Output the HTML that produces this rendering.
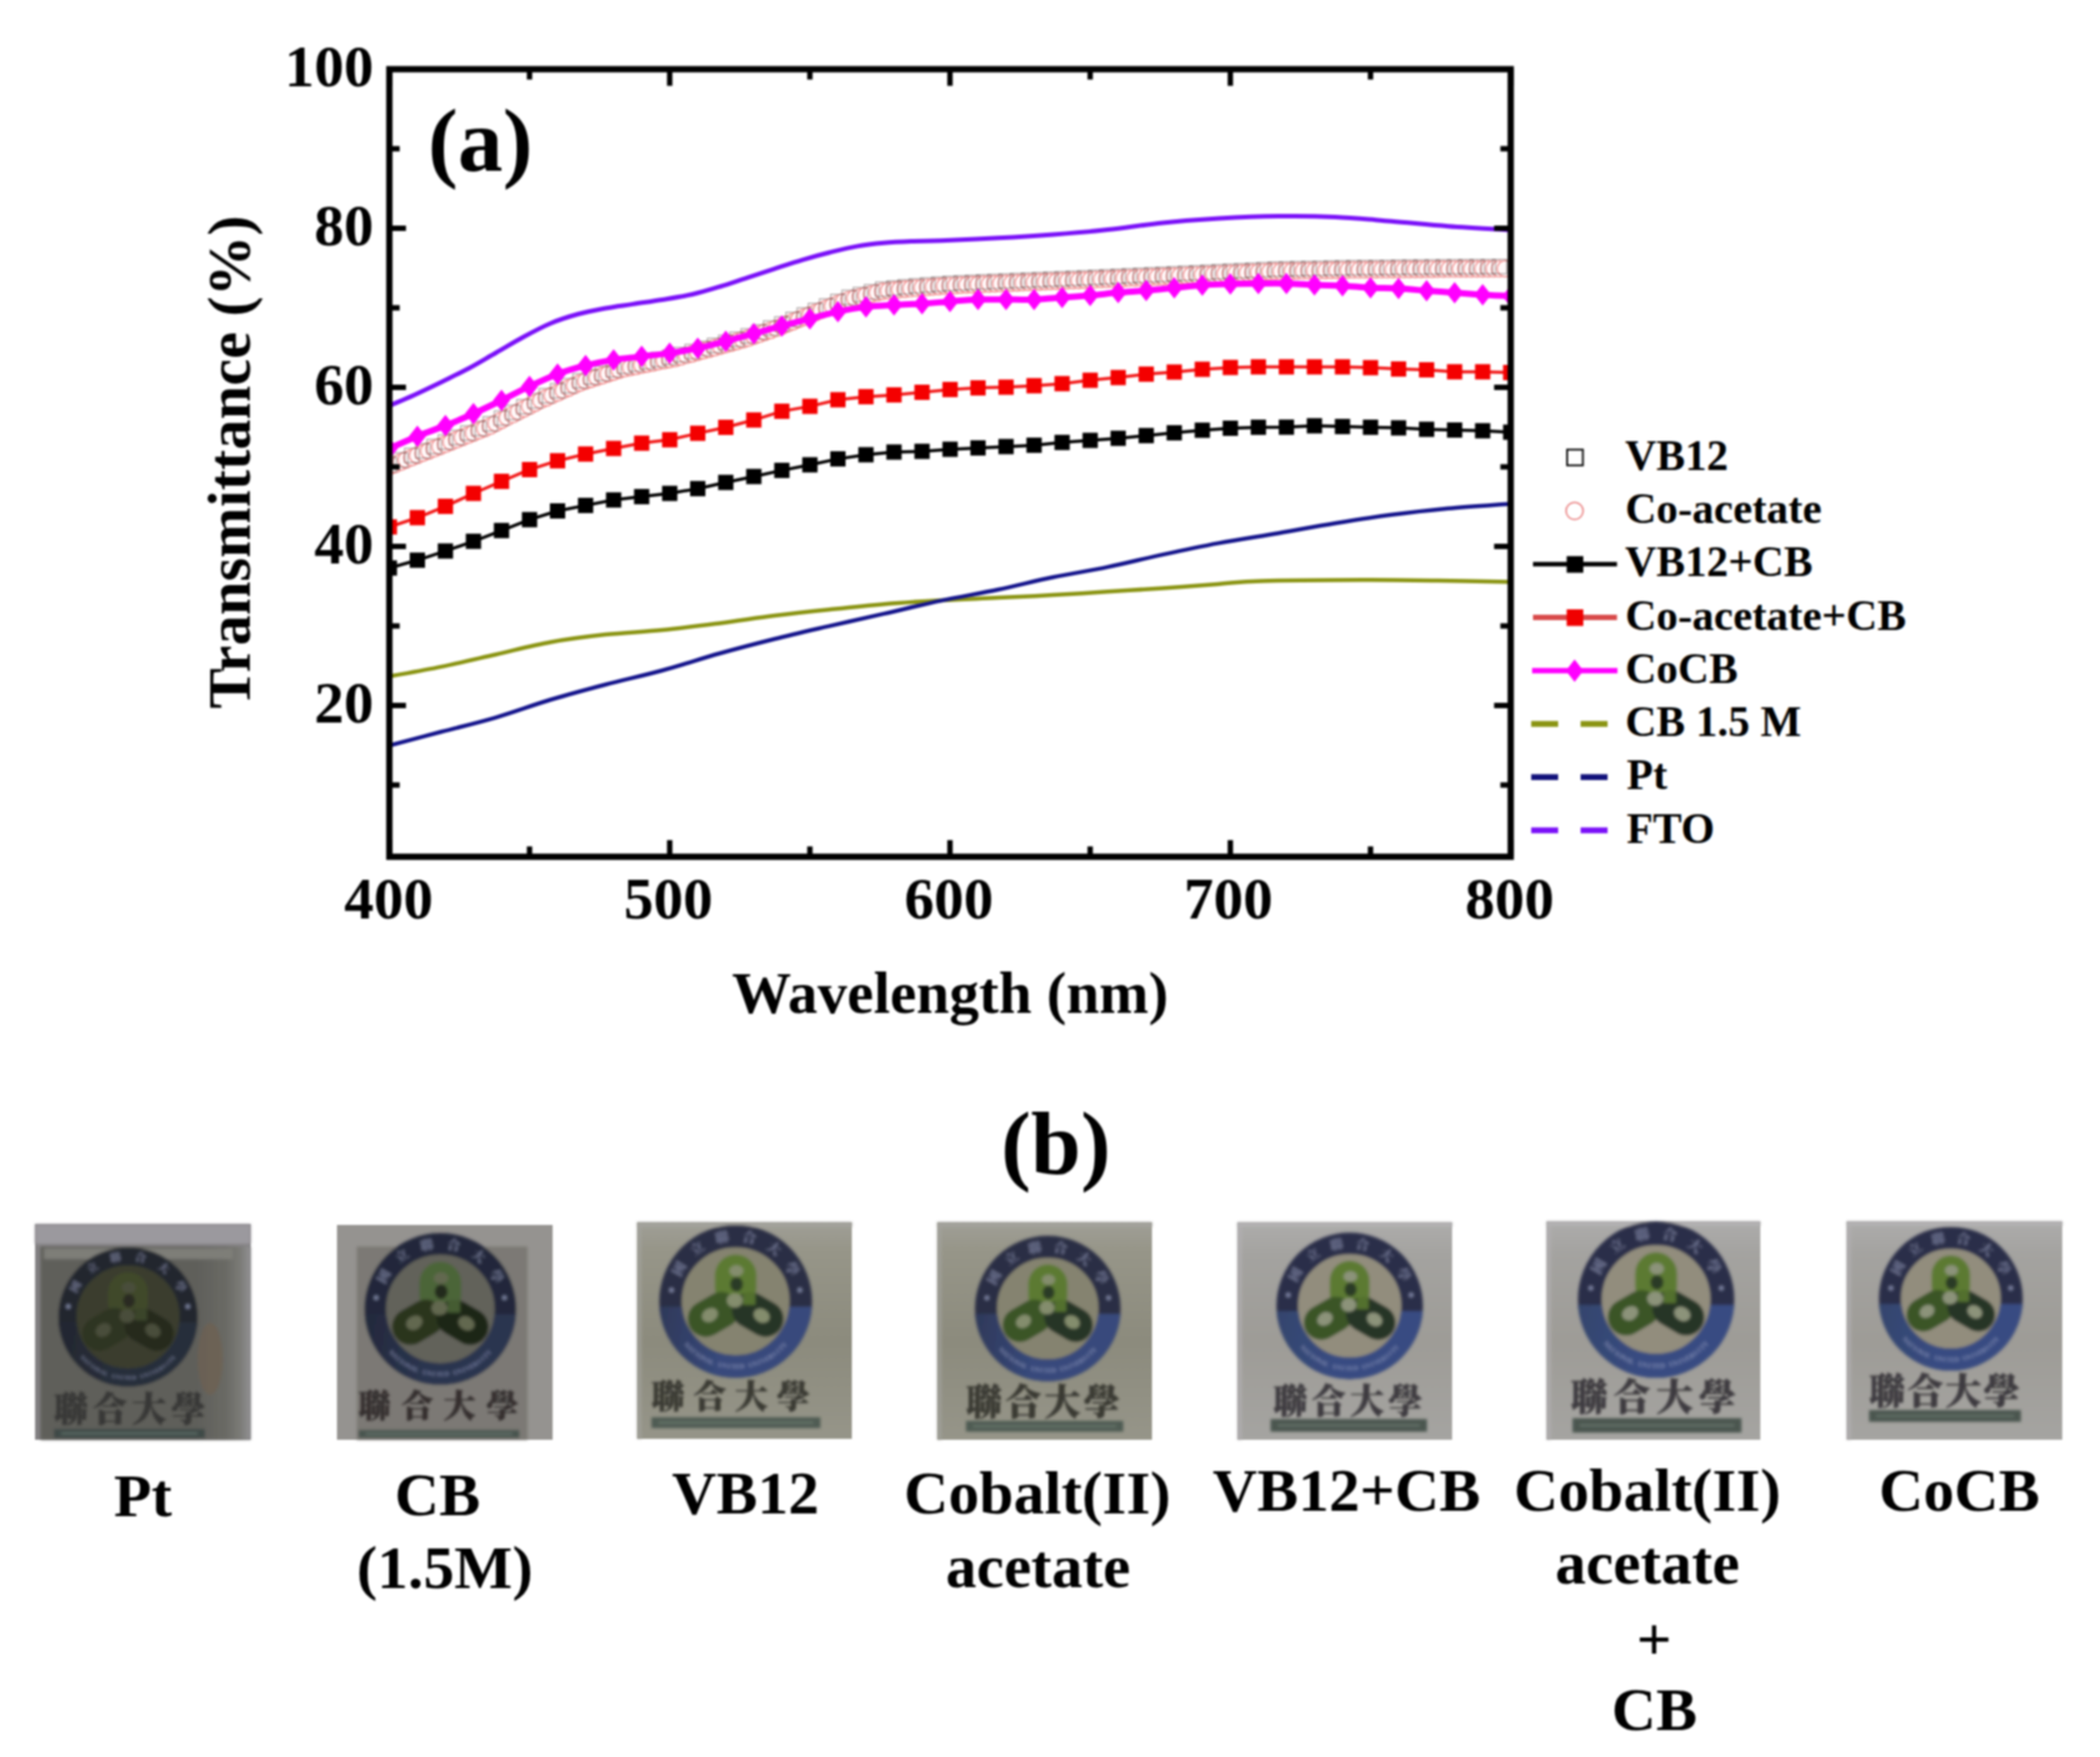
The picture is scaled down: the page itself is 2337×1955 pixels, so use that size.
<!DOCTYPE html>
<html><head><meta charset="utf-8"><title>Transmittance spectra and photographs</title>
<style>
html,body{margin:0;padding:0;background:#fff;}
body{width:2337px;height:1955px;overflow:hidden;}
svg{display:block;filter:blur(0.8px);}
</style></head>
<body>
<svg width="2337" height="1955" viewBox="0 0 2337 1955">
<rect width="2337" height="1955" fill="#fff"/>
<g id="plot">
<defs><clipPath id="pc"><rect x="433.3" y="77.0" width="1247.9" height="876.3"/></clipPath></defs>
<g clip-path="url(#pc)">
<path d="M433.3,752.6 C442.9,750.8 471.2,746.0 491.0,741.9 C510.8,737.8 531.6,732.8 551.9,728.2 C572.2,723.6 592.6,718.2 612.9,714.5 C633.2,710.8 653.1,708.4 673.8,706.1 C694.5,703.9 715.8,703.1 737.0,701.0 C758.2,698.9 780.2,696.1 801.0,693.5 C821.8,690.9 841.6,687.6 861.9,685.1 C882.2,682.6 902.6,680.4 922.9,678.3 C943.2,676.1 963.1,673.9 983.8,672.2 C1004.5,670.5 1025.8,669.2 1047.0,668.0 C1068.2,666.8 1090.2,666.1 1111.0,665.1 C1131.8,664.1 1151.6,663.2 1171.9,662.1 C1192.2,661.0 1212.6,659.6 1232.9,658.3 C1253.2,657.0 1273.5,655.9 1293.8,654.5 C1314.1,653.1 1336.4,651.2 1354.8,649.9 C1373.2,648.6 1377.0,647.3 1404.0,646.5 C1431.0,645.7 1484.3,645.4 1517.0,645.3 C1549.7,645.2 1572.6,645.6 1600.0,646.0 C1627.4,646.4 1667.7,647.2 1681.2,647.5" fill="none" stroke="#8a9412" stroke-width="4.5"/>
<path d="M433.3,829.5 C442.9,827.0 471.2,819.5 491.0,814.3 C510.8,809.1 531.6,804.3 551.9,798.3 C572.2,792.3 592.6,784.6 612.9,778.5 C633.2,772.4 653.1,767.1 673.8,761.7 C694.5,756.3 715.8,751.8 737.0,746.0 C758.2,740.2 780.2,732.8 801.0,727.0 C821.8,721.2 841.6,716.1 861.9,711.0 C882.2,705.9 902.6,701.3 922.9,696.6 C943.2,691.9 963.1,687.6 983.8,682.9 C1004.5,678.2 1025.8,672.9 1047.0,668.4 C1068.2,663.9 1090.2,660.4 1111.0,656.0 C1131.8,651.6 1151.6,646.5 1171.9,642.3 C1192.2,638.1 1212.6,635.1 1232.9,630.9 C1253.2,626.7 1273.3,621.5 1293.8,617.1 C1314.3,612.7 1334.5,608.4 1356.0,604.4 C1377.5,600.4 1401.3,596.9 1422.9,593.2 C1444.5,589.5 1464.8,585.6 1485.7,582.2 C1506.7,578.8 1527.6,575.5 1548.6,572.8 C1569.5,570.0 1589.3,567.8 1611.4,565.7 C1633.5,563.7 1669.6,561.4 1681.2,560.5" fill="none" stroke="#14148c" stroke-width="4.5"/>
<path d="M433.3,451.5 C437.8,449.5 450.9,444.1 460.5,439.7 C470.1,435.3 480.9,430.1 491.0,425.2 C501.1,420.2 511.2,415.4 521.4,410.0 C531.6,404.6 541.8,398.3 552.0,392.5 C562.2,386.7 572.2,380.5 582.4,375.0 C592.5,369.5 602.8,363.9 612.9,359.7 C623.0,355.4 633.1,352.3 643.3,349.5 C653.4,346.7 663.6,344.9 673.8,343.0 C684.0,341.1 693.8,340.0 704.3,338.4 C714.8,336.8 726.0,335.3 737.0,333.5 C748.0,331.7 759.8,329.9 770.5,327.5 C781.2,325.1 790.9,322.1 801.0,319.0 C811.1,315.9 821.2,312.4 831.4,309.1 C841.5,305.8 851.7,302.5 861.9,299.2 C872.1,295.9 882.2,292.3 892.4,289.3 C902.6,286.3 912.8,283.5 922.9,281.0 C933.0,278.5 943.1,275.9 953.3,274.1 C963.4,272.3 973.6,271.2 983.8,270.3 C994.0,269.4 1003.8,269.0 1014.3,268.6 C1024.8,268.2 1030.9,268.4 1047.0,267.8 C1063.1,267.2 1090.2,265.9 1111.0,264.8 C1131.8,263.7 1151.6,262.5 1171.9,261.0 C1192.2,259.5 1212.6,257.8 1232.9,255.6 C1253.2,253.4 1273.1,250.1 1293.8,248.0 C1314.5,245.9 1335.5,244.2 1357.0,243.0 C1378.5,241.8 1401.5,240.9 1422.9,240.6 C1444.4,240.3 1464.8,240.5 1485.7,241.4 C1506.7,242.3 1527.6,244.5 1548.6,246.2 C1569.5,247.9 1589.3,250.1 1611.4,251.7 C1633.5,253.3 1669.6,255.3 1681.2,256.0" fill="none" stroke="#7a10f8" stroke-width="5"/>
<path d="M433.3,632.0 L464.5,623.3 L495.7,613.1 L526.9,602.3 L558.1,590.3 L589.3,578.2 L620.5,568.5 L651.7,562.4 L682.9,556.3 L714.1,552.6 L745.3,549.0 L776.5,543.7 L807.7,536.8 L838.9,530.2 L870.1,523.4 L901.3,517.2 L932.5,510.6 L963.7,506.0 L994.9,503.0 L1026.1,502.2 L1057.2,499.9 L1088.4,498.4 L1119.6,496.9 L1150.8,495.4 L1182.0,492.3 L1213.2,490.0 L1244.4,487.7 L1275.6,484.7 L1306.8,481.6 L1338.0,478.7 L1369.2,476.5 L1400.4,475.4 L1431.6,475.3 L1462.8,473.8 L1494.0,474.6 L1525.2,475.4 L1556.4,476.1 L1587.6,477.7 L1618.8,478.5 L1650.0,479.3 L1681.2,480.9" fill="none" stroke="#000" stroke-width="3.5"/>
<rect x="424.8" y="623.5" width="17" height="17" fill="#000"/>
<rect x="456.0" y="614.8" width="17" height="17" fill="#000"/>
<rect x="487.2" y="604.6" width="17" height="17" fill="#000"/>
<rect x="518.4" y="593.8" width="17" height="17" fill="#000"/>
<rect x="549.6" y="581.8" width="17" height="17" fill="#000"/>
<rect x="580.8" y="569.7" width="17" height="17" fill="#000"/>
<rect x="612.0" y="560.0" width="17" height="17" fill="#000"/>
<rect x="643.2" y="553.9" width="17" height="17" fill="#000"/>
<rect x="674.4" y="547.8" width="17" height="17" fill="#000"/>
<rect x="705.6" y="544.1" width="17" height="17" fill="#000"/>
<rect x="736.8" y="540.5" width="17" height="17" fill="#000"/>
<rect x="768.0" y="535.2" width="17" height="17" fill="#000"/>
<rect x="799.2" y="528.3" width="17" height="17" fill="#000"/>
<rect x="830.4" y="521.7" width="17" height="17" fill="#000"/>
<rect x="861.6" y="514.9" width="17" height="17" fill="#000"/>
<rect x="892.8" y="508.7" width="17" height="17" fill="#000"/>
<rect x="924.0" y="502.1" width="17" height="17" fill="#000"/>
<rect x="955.2" y="497.5" width="17" height="17" fill="#000"/>
<rect x="986.4" y="494.5" width="17" height="17" fill="#000"/>
<rect x="1017.6" y="493.7" width="17" height="17" fill="#000"/>
<rect x="1048.8" y="491.4" width="17" height="17" fill="#000"/>
<rect x="1079.9" y="489.9" width="17" height="17" fill="#000"/>
<rect x="1111.1" y="488.4" width="17" height="17" fill="#000"/>
<rect x="1142.3" y="486.9" width="17" height="17" fill="#000"/>
<rect x="1173.5" y="483.8" width="17" height="17" fill="#000"/>
<rect x="1204.7" y="481.5" width="17" height="17" fill="#000"/>
<rect x="1235.9" y="479.2" width="17" height="17" fill="#000"/>
<rect x="1267.1" y="476.2" width="17" height="17" fill="#000"/>
<rect x="1298.3" y="473.1" width="17" height="17" fill="#000"/>
<rect x="1329.5" y="470.2" width="17" height="17" fill="#000"/>
<rect x="1360.7" y="468.0" width="17" height="17" fill="#000"/>
<rect x="1391.9" y="466.9" width="17" height="17" fill="#000"/>
<rect x="1423.1" y="466.8" width="17" height="17" fill="#000"/>
<rect x="1454.3" y="465.3" width="17" height="17" fill="#000"/>
<rect x="1485.5" y="466.1" width="17" height="17" fill="#000"/>
<rect x="1516.7" y="466.9" width="17" height="17" fill="#000"/>
<rect x="1547.9" y="467.6" width="17" height="17" fill="#000"/>
<rect x="1579.1" y="469.2" width="17" height="17" fill="#000"/>
<rect x="1610.3" y="470.0" width="17" height="17" fill="#000"/>
<rect x="1641.5" y="470.8" width="17" height="17" fill="#000"/>
<rect x="1672.7" y="472.4" width="17" height="17" fill="#000"/>
<path d="M433.3,586.3 L464.5,576.0 L495.7,563.4 L526.9,549.0 L558.1,535.6 L589.3,522.5 L620.5,512.7 L651.7,505.2 L682.9,499.0 L714.1,493.1 L745.3,489.3 L776.5,482.1 L807.7,475.5 L838.9,467.3 L870.1,457.6 L901.3,452.1 L932.5,444.8 L963.7,441.4 L994.9,439.4 L1026.1,436.5 L1057.2,433.4 L1088.4,431.6 L1119.6,430.8 L1150.8,429.2 L1182.0,426.9 L1213.2,423.1 L1244.4,420.1 L1275.6,416.3 L1306.8,414.0 L1338.0,410.9 L1369.2,408.9 L1400.4,408.2 L1431.6,408.2 L1462.8,408.2 L1494.0,408.2 L1525.2,409.1 L1556.4,410.6 L1587.6,411.5 L1618.8,413.7 L1650.0,413.7 L1681.2,414.5" fill="none" stroke="#f21a1a" stroke-width="3.5"/>
<rect x="424.8" y="577.8" width="17" height="17" fill="#f40000"/>
<rect x="456.0" y="567.5" width="17" height="17" fill="#f40000"/>
<rect x="487.2" y="554.9" width="17" height="17" fill="#f40000"/>
<rect x="518.4" y="540.5" width="17" height="17" fill="#f40000"/>
<rect x="549.6" y="527.1" width="17" height="17" fill="#f40000"/>
<rect x="580.8" y="514.0" width="17" height="17" fill="#f40000"/>
<rect x="612.0" y="504.2" width="17" height="17" fill="#f40000"/>
<rect x="643.2" y="496.7" width="17" height="17" fill="#f40000"/>
<rect x="674.4" y="490.5" width="17" height="17" fill="#f40000"/>
<rect x="705.6" y="484.6" width="17" height="17" fill="#f40000"/>
<rect x="736.8" y="480.8" width="17" height="17" fill="#f40000"/>
<rect x="768.0" y="473.6" width="17" height="17" fill="#f40000"/>
<rect x="799.2" y="467.0" width="17" height="17" fill="#f40000"/>
<rect x="830.4" y="458.8" width="17" height="17" fill="#f40000"/>
<rect x="861.6" y="449.1" width="17" height="17" fill="#f40000"/>
<rect x="892.8" y="443.6" width="17" height="17" fill="#f40000"/>
<rect x="924.0" y="436.3" width="17" height="17" fill="#f40000"/>
<rect x="955.2" y="432.9" width="17" height="17" fill="#f40000"/>
<rect x="986.4" y="430.9" width="17" height="17" fill="#f40000"/>
<rect x="1017.6" y="428.0" width="17" height="17" fill="#f40000"/>
<rect x="1048.8" y="424.9" width="17" height="17" fill="#f40000"/>
<rect x="1079.9" y="423.1" width="17" height="17" fill="#f40000"/>
<rect x="1111.1" y="422.3" width="17" height="17" fill="#f40000"/>
<rect x="1142.3" y="420.7" width="17" height="17" fill="#f40000"/>
<rect x="1173.5" y="418.4" width="17" height="17" fill="#f40000"/>
<rect x="1204.7" y="414.6" width="17" height="17" fill="#f40000"/>
<rect x="1235.9" y="411.6" width="17" height="17" fill="#f40000"/>
<rect x="1267.1" y="407.8" width="17" height="17" fill="#f40000"/>
<rect x="1298.3" y="405.5" width="17" height="17" fill="#f40000"/>
<rect x="1329.5" y="402.4" width="17" height="17" fill="#f40000"/>
<rect x="1360.7" y="400.4" width="17" height="17" fill="#f40000"/>
<rect x="1391.9" y="399.7" width="17" height="17" fill="#f40000"/>
<rect x="1423.1" y="399.7" width="17" height="17" fill="#f40000"/>
<rect x="1454.3" y="399.7" width="17" height="17" fill="#f40000"/>
<rect x="1485.5" y="399.7" width="17" height="17" fill="#f40000"/>
<rect x="1516.7" y="400.6" width="17" height="17" fill="#f40000"/>
<rect x="1547.9" y="402.1" width="17" height="17" fill="#f40000"/>
<rect x="1579.1" y="403.0" width="17" height="17" fill="#f40000"/>
<rect x="1610.3" y="405.2" width="17" height="17" fill="#f40000"/>
<rect x="1641.5" y="405.2" width="17" height="17" fill="#f40000"/>
<rect x="1672.7" y="406.0" width="17" height="17" fill="#f40000"/>
<circle cx="433.3" cy="519.5" r="9" fill="#fff8f8" stroke="#f08a8a" stroke-width="1.4"/>
<circle cx="439.5" cy="516.9" r="9" fill="#fff8f8" stroke="#f08a8a" stroke-width="1.4"/>
<circle cx="445.8" cy="514.3" r="9" fill="#fff8f8" stroke="#f08a8a" stroke-width="1.4"/>
<circle cx="452.0" cy="511.7" r="9" fill="#fff8f8" stroke="#f08a8a" stroke-width="1.4"/>
<circle cx="458.3" cy="509.2" r="9" fill="#fff8f8" stroke="#f08a8a" stroke-width="1.4"/>
<circle cx="464.5" cy="506.7" r="9" fill="#fff8f8" stroke="#f08a8a" stroke-width="1.4"/>
<circle cx="470.7" cy="504.2" r="9" fill="#fff8f8" stroke="#f08a8a" stroke-width="1.4"/>
<circle cx="477.0" cy="501.8" r="9" fill="#fff8f8" stroke="#f08a8a" stroke-width="1.4"/>
<circle cx="483.2" cy="499.3" r="9" fill="#fff8f8" stroke="#f08a8a" stroke-width="1.4"/>
<circle cx="489.5" cy="496.8" r="9" fill="#fff8f8" stroke="#f08a8a" stroke-width="1.4"/>
<circle cx="495.7" cy="494.3" r="9" fill="#fff8f8" stroke="#f08a8a" stroke-width="1.4"/>
<circle cx="501.9" cy="491.8" r="9" fill="#fff8f8" stroke="#f08a8a" stroke-width="1.4"/>
<circle cx="508.2" cy="489.3" r="9" fill="#fff8f8" stroke="#f08a8a" stroke-width="1.4"/>
<circle cx="514.4" cy="486.8" r="9" fill="#fff8f8" stroke="#f08a8a" stroke-width="1.4"/>
<circle cx="520.7" cy="484.3" r="9" fill="#fff8f8" stroke="#f08a8a" stroke-width="1.4"/>
<circle cx="526.9" cy="481.8" r="9" fill="#fff8f8" stroke="#f08a8a" stroke-width="1.4"/>
<circle cx="533.1" cy="479.3" r="9" fill="#fff8f8" stroke="#f08a8a" stroke-width="1.4"/>
<circle cx="539.4" cy="476.8" r="9" fill="#fff8f8" stroke="#f08a8a" stroke-width="1.4"/>
<circle cx="545.6" cy="474.1" r="9" fill="#fff8f8" stroke="#f08a8a" stroke-width="1.4"/>
<circle cx="551.9" cy="470.9" r="9" fill="#fff8f8" stroke="#f08a8a" stroke-width="1.4"/>
<circle cx="558.1" cy="467.7" r="9" fill="#fff8f8" stroke="#f08a8a" stroke-width="1.4"/>
<circle cx="564.3" cy="464.5" r="9" fill="#fff8f8" stroke="#f08a8a" stroke-width="1.4"/>
<circle cx="570.6" cy="461.4" r="9" fill="#fff8f8" stroke="#f08a8a" stroke-width="1.4"/>
<circle cx="576.8" cy="458.2" r="9" fill="#fff8f8" stroke="#f08a8a" stroke-width="1.4"/>
<circle cx="583.1" cy="455.0" r="9" fill="#fff8f8" stroke="#f08a8a" stroke-width="1.4"/>
<circle cx="589.3" cy="451.8" r="9" fill="#fff8f8" stroke="#f08a8a" stroke-width="1.4"/>
<circle cx="595.5" cy="448.6" r="9" fill="#fff8f8" stroke="#f08a8a" stroke-width="1.4"/>
<circle cx="601.8" cy="445.5" r="9" fill="#fff8f8" stroke="#f08a8a" stroke-width="1.4"/>
<circle cx="608.0" cy="442.8" r="9" fill="#fff8f8" stroke="#f08a8a" stroke-width="1.4"/>
<circle cx="614.3" cy="440.0" r="9" fill="#fff8f8" stroke="#f08a8a" stroke-width="1.4"/>
<circle cx="620.5" cy="437.3" r="9" fill="#fff8f8" stroke="#f08a8a" stroke-width="1.4"/>
<circle cx="626.7" cy="434.5" r="9" fill="#fff8f8" stroke="#f08a8a" stroke-width="1.4"/>
<circle cx="633.0" cy="431.7" r="9" fill="#fff8f8" stroke="#f08a8a" stroke-width="1.4"/>
<circle cx="639.2" cy="429.0" r="9" fill="#fff8f8" stroke="#f08a8a" stroke-width="1.4"/>
<circle cx="645.5" cy="426.2" r="9" fill="#fff8f8" stroke="#f08a8a" stroke-width="1.4"/>
<circle cx="651.7" cy="424.0" r="9" fill="#fff8f8" stroke="#f08a8a" stroke-width="1.4"/>
<circle cx="657.9" cy="422.0" r="9" fill="#fff8f8" stroke="#f08a8a" stroke-width="1.4"/>
<circle cx="664.2" cy="420.0" r="9" fill="#fff8f8" stroke="#f08a8a" stroke-width="1.4"/>
<circle cx="670.4" cy="418.0" r="9" fill="#fff8f8" stroke="#f08a8a" stroke-width="1.4"/>
<circle cx="676.7" cy="416.0" r="9" fill="#fff8f8" stroke="#f08a8a" stroke-width="1.4"/>
<circle cx="682.9" cy="414.0" r="9" fill="#fff8f8" stroke="#f08a8a" stroke-width="1.4"/>
<circle cx="689.1" cy="412.0" r="9" fill="#fff8f8" stroke="#f08a8a" stroke-width="1.4"/>
<circle cx="695.4" cy="410.1" r="9" fill="#fff8f8" stroke="#f08a8a" stroke-width="1.4"/>
<circle cx="701.6" cy="408.8" r="9" fill="#fff8f8" stroke="#f08a8a" stroke-width="1.4"/>
<circle cx="707.9" cy="407.6" r="9" fill="#fff8f8" stroke="#f08a8a" stroke-width="1.4"/>
<circle cx="714.1" cy="406.3" r="9" fill="#fff8f8" stroke="#f08a8a" stroke-width="1.4"/>
<circle cx="720.3" cy="405.0" r="9" fill="#fff8f8" stroke="#f08a8a" stroke-width="1.4"/>
<circle cx="726.6" cy="403.8" r="9" fill="#fff8f8" stroke="#f08a8a" stroke-width="1.4"/>
<circle cx="732.8" cy="402.5" r="9" fill="#fff8f8" stroke="#f08a8a" stroke-width="1.4"/>
<circle cx="739.1" cy="401.3" r="9" fill="#fff8f8" stroke="#f08a8a" stroke-width="1.4"/>
<circle cx="745.3" cy="400.0" r="9" fill="#fff8f8" stroke="#f08a8a" stroke-width="1.4"/>
<circle cx="751.5" cy="398.8" r="9" fill="#fff8f8" stroke="#f08a8a" stroke-width="1.4"/>
<circle cx="757.8" cy="397.1" r="9" fill="#fff8f8" stroke="#f08a8a" stroke-width="1.4"/>
<circle cx="764.0" cy="395.4" r="9" fill="#fff8f8" stroke="#f08a8a" stroke-width="1.4"/>
<circle cx="770.3" cy="393.7" r="9" fill="#fff8f8" stroke="#f08a8a" stroke-width="1.4"/>
<circle cx="776.5" cy="392.0" r="9" fill="#fff8f8" stroke="#f08a8a" stroke-width="1.4"/>
<circle cx="782.7" cy="390.3" r="9" fill="#fff8f8" stroke="#f08a8a" stroke-width="1.4"/>
<circle cx="789.0" cy="388.6" r="9" fill="#fff8f8" stroke="#f08a8a" stroke-width="1.4"/>
<circle cx="795.2" cy="386.9" r="9" fill="#fff8f8" stroke="#f08a8a" stroke-width="1.4"/>
<circle cx="801.5" cy="385.2" r="9" fill="#fff8f8" stroke="#f08a8a" stroke-width="1.4"/>
<circle cx="807.7" cy="383.5" r="9" fill="#fff8f8" stroke="#f08a8a" stroke-width="1.4"/>
<circle cx="813.9" cy="381.7" r="9" fill="#fff8f8" stroke="#f08a8a" stroke-width="1.4"/>
<circle cx="820.2" cy="380.0" r="9" fill="#fff8f8" stroke="#f08a8a" stroke-width="1.4"/>
<circle cx="826.4" cy="378.3" r="9" fill="#fff8f8" stroke="#f08a8a" stroke-width="1.4"/>
<circle cx="832.7" cy="376.3" r="9" fill="#fff8f8" stroke="#f08a8a" stroke-width="1.4"/>
<circle cx="838.9" cy="374.1" r="9" fill="#fff8f8" stroke="#f08a8a" stroke-width="1.4"/>
<circle cx="845.1" cy="371.9" r="9" fill="#fff8f8" stroke="#f08a8a" stroke-width="1.4"/>
<circle cx="851.4" cy="369.7" r="9" fill="#fff8f8" stroke="#f08a8a" stroke-width="1.4"/>
<circle cx="857.6" cy="367.6" r="9" fill="#fff8f8" stroke="#f08a8a" stroke-width="1.4"/>
<circle cx="863.9" cy="365.4" r="9" fill="#fff8f8" stroke="#f08a8a" stroke-width="1.4"/>
<circle cx="870.1" cy="363.0" r="9" fill="#fff8f8" stroke="#f08a8a" stroke-width="1.4"/>
<circle cx="876.3" cy="360.5" r="9" fill="#fff8f8" stroke="#f08a8a" stroke-width="1.4"/>
<circle cx="882.6" cy="358.0" r="9" fill="#fff8f8" stroke="#f08a8a" stroke-width="1.4"/>
<circle cx="888.8" cy="355.5" r="9" fill="#fff8f8" stroke="#f08a8a" stroke-width="1.4"/>
<circle cx="895.1" cy="353.0" r="9" fill="#fff8f8" stroke="#f08a8a" stroke-width="1.4"/>
<circle cx="901.3" cy="350.5" r="9" fill="#fff8f8" stroke="#f08a8a" stroke-width="1.4"/>
<circle cx="907.5" cy="348.0" r="9" fill="#fff8f8" stroke="#f08a8a" stroke-width="1.4"/>
<circle cx="913.8" cy="345.5" r="9" fill="#fff8f8" stroke="#f08a8a" stroke-width="1.4"/>
<circle cx="920.0" cy="343.0" r="9" fill="#fff8f8" stroke="#f08a8a" stroke-width="1.4"/>
<circle cx="926.3" cy="340.5" r="9" fill="#fff8f8" stroke="#f08a8a" stroke-width="1.4"/>
<circle cx="932.5" cy="338.0" r="9" fill="#fff8f8" stroke="#f08a8a" stroke-width="1.4"/>
<circle cx="938.7" cy="335.6" r="9" fill="#fff8f8" stroke="#f08a8a" stroke-width="1.4"/>
<circle cx="945.0" cy="333.4" r="9" fill="#fff8f8" stroke="#f08a8a" stroke-width="1.4"/>
<circle cx="951.2" cy="331.8" r="9" fill="#fff8f8" stroke="#f08a8a" stroke-width="1.4"/>
<circle cx="957.5" cy="330.3" r="9" fill="#fff8f8" stroke="#f08a8a" stroke-width="1.4"/>
<circle cx="963.7" cy="328.7" r="9" fill="#fff8f8" stroke="#f08a8a" stroke-width="1.4"/>
<circle cx="969.9" cy="327.2" r="9" fill="#fff8f8" stroke="#f08a8a" stroke-width="1.4"/>
<circle cx="976.2" cy="325.6" r="9" fill="#fff8f8" stroke="#f08a8a" stroke-width="1.4"/>
<circle cx="982.4" cy="324.3" r="9" fill="#fff8f8" stroke="#f08a8a" stroke-width="1.4"/>
<circle cx="988.7" cy="323.6" r="9" fill="#fff8f8" stroke="#f08a8a" stroke-width="1.4"/>
<circle cx="994.9" cy="323.0" r="9" fill="#fff8f8" stroke="#f08a8a" stroke-width="1.4"/>
<circle cx="1001.1" cy="322.3" r="9" fill="#fff8f8" stroke="#f08a8a" stroke-width="1.4"/>
<circle cx="1007.4" cy="321.7" r="9" fill="#fff8f8" stroke="#f08a8a" stroke-width="1.4"/>
<circle cx="1013.6" cy="321.1" r="9" fill="#fff8f8" stroke="#f08a8a" stroke-width="1.4"/>
<circle cx="1019.9" cy="320.6" r="9" fill="#fff8f8" stroke="#f08a8a" stroke-width="1.4"/>
<circle cx="1026.1" cy="320.1" r="9" fill="#fff8f8" stroke="#f08a8a" stroke-width="1.4"/>
<circle cx="1032.3" cy="319.6" r="9" fill="#fff8f8" stroke="#f08a8a" stroke-width="1.4"/>
<circle cx="1038.6" cy="319.2" r="9" fill="#fff8f8" stroke="#f08a8a" stroke-width="1.4"/>
<circle cx="1044.8" cy="318.7" r="9" fill="#fff8f8" stroke="#f08a8a" stroke-width="1.4"/>
<circle cx="1051.1" cy="318.2" r="9" fill="#fff8f8" stroke="#f08a8a" stroke-width="1.4"/>
<circle cx="1057.3" cy="317.9" r="9" fill="#fff8f8" stroke="#f08a8a" stroke-width="1.4"/>
<circle cx="1063.5" cy="317.6" r="9" fill="#fff8f8" stroke="#f08a8a" stroke-width="1.4"/>
<circle cx="1069.8" cy="317.3" r="9" fill="#fff8f8" stroke="#f08a8a" stroke-width="1.4"/>
<circle cx="1076.0" cy="317.0" r="9" fill="#fff8f8" stroke="#f08a8a" stroke-width="1.4"/>
<circle cx="1082.3" cy="316.8" r="9" fill="#fff8f8" stroke="#f08a8a" stroke-width="1.4"/>
<circle cx="1088.5" cy="316.5" r="9" fill="#fff8f8" stroke="#f08a8a" stroke-width="1.4"/>
<circle cx="1094.7" cy="316.2" r="9" fill="#fff8f8" stroke="#f08a8a" stroke-width="1.4"/>
<circle cx="1101.0" cy="316.0" r="9" fill="#fff8f8" stroke="#f08a8a" stroke-width="1.4"/>
<circle cx="1107.2" cy="315.7" r="9" fill="#fff8f8" stroke="#f08a8a" stroke-width="1.4"/>
<circle cx="1113.5" cy="315.5" r="9" fill="#fff8f8" stroke="#f08a8a" stroke-width="1.4"/>
<circle cx="1119.7" cy="315.2" r="9" fill="#fff8f8" stroke="#f08a8a" stroke-width="1.4"/>
<circle cx="1125.9" cy="315.0" r="9" fill="#fff8f8" stroke="#f08a8a" stroke-width="1.4"/>
<circle cx="1132.2" cy="314.7" r="9" fill="#fff8f8" stroke="#f08a8a" stroke-width="1.4"/>
<circle cx="1138.4" cy="314.5" r="9" fill="#fff8f8" stroke="#f08a8a" stroke-width="1.4"/>
<circle cx="1144.7" cy="314.2" r="9" fill="#fff8f8" stroke="#f08a8a" stroke-width="1.4"/>
<circle cx="1150.9" cy="314.0" r="9" fill="#fff8f8" stroke="#f08a8a" stroke-width="1.4"/>
<circle cx="1157.1" cy="313.7" r="9" fill="#fff8f8" stroke="#f08a8a" stroke-width="1.4"/>
<circle cx="1163.4" cy="313.5" r="9" fill="#fff8f8" stroke="#f08a8a" stroke-width="1.4"/>
<circle cx="1169.6" cy="313.2" r="9" fill="#fff8f8" stroke="#f08a8a" stroke-width="1.4"/>
<circle cx="1175.9" cy="313.0" r="9" fill="#fff8f8" stroke="#f08a8a" stroke-width="1.4"/>
<circle cx="1182.1" cy="312.7" r="9" fill="#fff8f8" stroke="#f08a8a" stroke-width="1.4"/>
<circle cx="1188.3" cy="312.5" r="9" fill="#fff8f8" stroke="#f08a8a" stroke-width="1.4"/>
<circle cx="1194.6" cy="312.2" r="9" fill="#fff8f8" stroke="#f08a8a" stroke-width="1.4"/>
<circle cx="1200.8" cy="312.0" r="9" fill="#fff8f8" stroke="#f08a8a" stroke-width="1.4"/>
<circle cx="1207.1" cy="311.7" r="9" fill="#fff8f8" stroke="#f08a8a" stroke-width="1.4"/>
<circle cx="1213.3" cy="311.4" r="9" fill="#fff8f8" stroke="#f08a8a" stroke-width="1.4"/>
<circle cx="1219.5" cy="311.1" r="9" fill="#fff8f8" stroke="#f08a8a" stroke-width="1.4"/>
<circle cx="1225.8" cy="310.8" r="9" fill="#fff8f8" stroke="#f08a8a" stroke-width="1.4"/>
<circle cx="1232.0" cy="310.6" r="9" fill="#fff8f8" stroke="#f08a8a" stroke-width="1.4"/>
<circle cx="1238.3" cy="310.3" r="9" fill="#fff8f8" stroke="#f08a8a" stroke-width="1.4"/>
<circle cx="1244.5" cy="310.0" r="9" fill="#fff8f8" stroke="#f08a8a" stroke-width="1.4"/>
<circle cx="1250.7" cy="309.7" r="9" fill="#fff8f8" stroke="#f08a8a" stroke-width="1.4"/>
<circle cx="1257.0" cy="309.4" r="9" fill="#fff8f8" stroke="#f08a8a" stroke-width="1.4"/>
<circle cx="1263.2" cy="309.2" r="9" fill="#fff8f8" stroke="#f08a8a" stroke-width="1.4"/>
<circle cx="1269.5" cy="308.9" r="9" fill="#fff8f8" stroke="#f08a8a" stroke-width="1.4"/>
<circle cx="1275.7" cy="308.6" r="9" fill="#fff8f8" stroke="#f08a8a" stroke-width="1.4"/>
<circle cx="1281.9" cy="308.3" r="9" fill="#fff8f8" stroke="#f08a8a" stroke-width="1.4"/>
<circle cx="1288.2" cy="308.0" r="9" fill="#fff8f8" stroke="#f08a8a" stroke-width="1.4"/>
<circle cx="1294.4" cy="307.8" r="9" fill="#fff8f8" stroke="#f08a8a" stroke-width="1.4"/>
<circle cx="1300.7" cy="307.5" r="9" fill="#fff8f8" stroke="#f08a8a" stroke-width="1.4"/>
<circle cx="1306.9" cy="307.2" r="9" fill="#fff8f8" stroke="#f08a8a" stroke-width="1.4"/>
<circle cx="1313.1" cy="306.9" r="9" fill="#fff8f8" stroke="#f08a8a" stroke-width="1.4"/>
<circle cx="1319.4" cy="306.6" r="9" fill="#fff8f8" stroke="#f08a8a" stroke-width="1.4"/>
<circle cx="1325.6" cy="306.3" r="9" fill="#fff8f8" stroke="#f08a8a" stroke-width="1.4"/>
<circle cx="1331.9" cy="306.1" r="9" fill="#fff8f8" stroke="#f08a8a" stroke-width="1.4"/>
<circle cx="1338.1" cy="305.8" r="9" fill="#fff8f8" stroke="#f08a8a" stroke-width="1.4"/>
<circle cx="1344.3" cy="305.5" r="9" fill="#fff8f8" stroke="#f08a8a" stroke-width="1.4"/>
<circle cx="1350.6" cy="305.2" r="9" fill="#fff8f8" stroke="#f08a8a" stroke-width="1.4"/>
<circle cx="1356.8" cy="304.9" r="9" fill="#fff8f8" stroke="#f08a8a" stroke-width="1.4"/>
<circle cx="1363.1" cy="304.6" r="9" fill="#fff8f8" stroke="#f08a8a" stroke-width="1.4"/>
<circle cx="1369.3" cy="304.3" r="9" fill="#fff8f8" stroke="#f08a8a" stroke-width="1.4"/>
<circle cx="1375.5" cy="304.1" r="9" fill="#fff8f8" stroke="#f08a8a" stroke-width="1.4"/>
<circle cx="1381.8" cy="303.8" r="9" fill="#fff8f8" stroke="#f08a8a" stroke-width="1.4"/>
<circle cx="1388.0" cy="303.5" r="9" fill="#fff8f8" stroke="#f08a8a" stroke-width="1.4"/>
<circle cx="1394.3" cy="303.2" r="9" fill="#fff8f8" stroke="#f08a8a" stroke-width="1.4"/>
<circle cx="1400.5" cy="302.9" r="9" fill="#fff8f8" stroke="#f08a8a" stroke-width="1.4"/>
<circle cx="1406.7" cy="302.6" r="9" fill="#fff8f8" stroke="#f08a8a" stroke-width="1.4"/>
<circle cx="1413.0" cy="302.3" r="9" fill="#fff8f8" stroke="#f08a8a" stroke-width="1.4"/>
<circle cx="1419.2" cy="302.0" r="9" fill="#fff8f8" stroke="#f08a8a" stroke-width="1.4"/>
<circle cx="1425.5" cy="301.9" r="9" fill="#fff8f8" stroke="#f08a8a" stroke-width="1.4"/>
<circle cx="1431.7" cy="301.8" r="9" fill="#fff8f8" stroke="#f08a8a" stroke-width="1.4"/>
<circle cx="1437.9" cy="301.7" r="9" fill="#fff8f8" stroke="#f08a8a" stroke-width="1.4"/>
<circle cx="1444.2" cy="301.5" r="9" fill="#fff8f8" stroke="#f08a8a" stroke-width="1.4"/>
<circle cx="1450.4" cy="301.4" r="9" fill="#fff8f8" stroke="#f08a8a" stroke-width="1.4"/>
<circle cx="1456.7" cy="301.3" r="9" fill="#fff8f8" stroke="#f08a8a" stroke-width="1.4"/>
<circle cx="1462.9" cy="301.2" r="9" fill="#fff8f8" stroke="#f08a8a" stroke-width="1.4"/>
<circle cx="1469.1" cy="301.1" r="9" fill="#fff8f8" stroke="#f08a8a" stroke-width="1.4"/>
<circle cx="1475.4" cy="301.0" r="9" fill="#fff8f8" stroke="#f08a8a" stroke-width="1.4"/>
<circle cx="1481.6" cy="300.8" r="9" fill="#fff8f8" stroke="#f08a8a" stroke-width="1.4"/>
<circle cx="1487.9" cy="300.7" r="9" fill="#fff8f8" stroke="#f08a8a" stroke-width="1.4"/>
<circle cx="1494.1" cy="300.6" r="9" fill="#fff8f8" stroke="#f08a8a" stroke-width="1.4"/>
<circle cx="1500.3" cy="300.5" r="9" fill="#fff8f8" stroke="#f08a8a" stroke-width="1.4"/>
<circle cx="1506.6" cy="300.4" r="9" fill="#fff8f8" stroke="#f08a8a" stroke-width="1.4"/>
<circle cx="1512.8" cy="300.4" r="9" fill="#fff8f8" stroke="#f08a8a" stroke-width="1.4"/>
<circle cx="1519.1" cy="300.3" r="9" fill="#fff8f8" stroke="#f08a8a" stroke-width="1.4"/>
<circle cx="1525.3" cy="300.2" r="9" fill="#fff8f8" stroke="#f08a8a" stroke-width="1.4"/>
<circle cx="1531.5" cy="300.2" r="9" fill="#fff8f8" stroke="#f08a8a" stroke-width="1.4"/>
<circle cx="1537.8" cy="300.1" r="9" fill="#fff8f8" stroke="#f08a8a" stroke-width="1.4"/>
<circle cx="1544.0" cy="300.1" r="9" fill="#fff8f8" stroke="#f08a8a" stroke-width="1.4"/>
<circle cx="1550.3" cy="300.0" r="9" fill="#fff8f8" stroke="#f08a8a" stroke-width="1.4"/>
<circle cx="1556.5" cy="299.9" r="9" fill="#fff8f8" stroke="#f08a8a" stroke-width="1.4"/>
<circle cx="1562.7" cy="299.9" r="9" fill="#fff8f8" stroke="#f08a8a" stroke-width="1.4"/>
<circle cx="1569.0" cy="299.8" r="9" fill="#fff8f8" stroke="#f08a8a" stroke-width="1.4"/>
<circle cx="1575.2" cy="299.7" r="9" fill="#fff8f8" stroke="#f08a8a" stroke-width="1.4"/>
<circle cx="1581.5" cy="299.7" r="9" fill="#fff8f8" stroke="#f08a8a" stroke-width="1.4"/>
<circle cx="1587.7" cy="299.6" r="9" fill="#fff8f8" stroke="#f08a8a" stroke-width="1.4"/>
<circle cx="1593.9" cy="299.6" r="9" fill="#fff8f8" stroke="#f08a8a" stroke-width="1.4"/>
<circle cx="1600.2" cy="299.5" r="9" fill="#fff8f8" stroke="#f08a8a" stroke-width="1.4"/>
<circle cx="1606.4" cy="299.5" r="9" fill="#fff8f8" stroke="#f08a8a" stroke-width="1.4"/>
<circle cx="1612.7" cy="299.4" r="9" fill="#fff8f8" stroke="#f08a8a" stroke-width="1.4"/>
<circle cx="1618.9" cy="299.4" r="9" fill="#fff8f8" stroke="#f08a8a" stroke-width="1.4"/>
<circle cx="1625.1" cy="299.3" r="9" fill="#fff8f8" stroke="#f08a8a" stroke-width="1.4"/>
<circle cx="1631.4" cy="299.3" r="9" fill="#fff8f8" stroke="#f08a8a" stroke-width="1.4"/>
<circle cx="1637.6" cy="299.3" r="9" fill="#fff8f8" stroke="#f08a8a" stroke-width="1.4"/>
<circle cx="1643.9" cy="299.2" r="9" fill="#fff8f8" stroke="#f08a8a" stroke-width="1.4"/>
<circle cx="1650.1" cy="299.2" r="9" fill="#fff8f8" stroke="#f08a8a" stroke-width="1.4"/>
<circle cx="1656.3" cy="299.2" r="9" fill="#fff8f8" stroke="#f08a8a" stroke-width="1.4"/>
<circle cx="1662.6" cy="299.1" r="9" fill="#fff8f8" stroke="#f08a8a" stroke-width="1.4"/>
<circle cx="1668.8" cy="299.1" r="9" fill="#fff8f8" stroke="#f08a8a" stroke-width="1.4"/>
<circle cx="1675.1" cy="299.0" r="9" fill="#fff8f8" stroke="#f08a8a" stroke-width="1.4"/>
<rect x="425.3" y="509.0" width="16" height="16" fill="none" stroke="#4a3a3a" stroke-width="1.1" opacity="0.5"/>
<rect x="437.8" y="503.8" width="16" height="16" fill="none" stroke="#4a3a3a" stroke-width="1.1" opacity="0.5"/>
<rect x="450.3" y="498.7" width="16" height="16" fill="none" stroke="#4a3a3a" stroke-width="1.1" opacity="0.5"/>
<rect x="462.7" y="493.7" width="16" height="16" fill="none" stroke="#4a3a3a" stroke-width="1.1" opacity="0.5"/>
<rect x="475.2" y="488.8" width="16" height="16" fill="none" stroke="#4a3a3a" stroke-width="1.1" opacity="0.5"/>
<rect x="487.7" y="483.8" width="16" height="16" fill="none" stroke="#4a3a3a" stroke-width="1.1" opacity="0.5"/>
<rect x="500.2" y="478.8" width="16" height="16" fill="none" stroke="#4a3a3a" stroke-width="1.1" opacity="0.5"/>
<rect x="512.7" y="473.8" width="16" height="16" fill="none" stroke="#4a3a3a" stroke-width="1.1" opacity="0.5"/>
<rect x="525.1" y="468.8" width="16" height="16" fill="none" stroke="#4a3a3a" stroke-width="1.1" opacity="0.5"/>
<rect x="537.6" y="463.6" width="16" height="16" fill="none" stroke="#4a3a3a" stroke-width="1.1" opacity="0.5"/>
<rect x="550.1" y="457.2" width="16" height="16" fill="none" stroke="#4a3a3a" stroke-width="1.1" opacity="0.5"/>
<rect x="562.6" y="450.9" width="16" height="16" fill="none" stroke="#4a3a3a" stroke-width="1.1" opacity="0.5"/>
<rect x="575.1" y="444.5" width="16" height="16" fill="none" stroke="#4a3a3a" stroke-width="1.1" opacity="0.5"/>
<rect x="587.5" y="438.1" width="16" height="16" fill="none" stroke="#4a3a3a" stroke-width="1.1" opacity="0.5"/>
<rect x="600.0" y="432.3" width="16" height="16" fill="none" stroke="#4a3a3a" stroke-width="1.1" opacity="0.5"/>
<rect x="612.5" y="426.8" width="16" height="16" fill="none" stroke="#4a3a3a" stroke-width="1.1" opacity="0.5"/>
<rect x="625.0" y="421.2" width="16" height="16" fill="none" stroke="#4a3a3a" stroke-width="1.1" opacity="0.5"/>
<rect x="637.5" y="415.7" width="16" height="16" fill="none" stroke="#4a3a3a" stroke-width="1.1" opacity="0.5"/>
<rect x="649.9" y="411.5" width="16" height="16" fill="none" stroke="#4a3a3a" stroke-width="1.1" opacity="0.5"/>
<rect x="662.4" y="407.5" width="16" height="16" fill="none" stroke="#4a3a3a" stroke-width="1.1" opacity="0.5"/>
<rect x="674.9" y="403.5" width="16" height="16" fill="none" stroke="#4a3a3a" stroke-width="1.1" opacity="0.5"/>
<rect x="687.4" y="399.6" width="16" height="16" fill="none" stroke="#4a3a3a" stroke-width="1.1" opacity="0.5"/>
<rect x="699.9" y="397.1" width="16" height="16" fill="none" stroke="#4a3a3a" stroke-width="1.1" opacity="0.5"/>
<rect x="712.3" y="394.5" width="16" height="16" fill="none" stroke="#4a3a3a" stroke-width="1.1" opacity="0.5"/>
<rect x="724.8" y="392.0" width="16" height="16" fill="none" stroke="#4a3a3a" stroke-width="1.1" opacity="0.5"/>
<rect x="737.3" y="389.5" width="16" height="16" fill="none" stroke="#4a3a3a" stroke-width="1.1" opacity="0.5"/>
<rect x="749.8" y="386.6" width="16" height="16" fill="none" stroke="#4a3a3a" stroke-width="1.1" opacity="0.5"/>
<rect x="762.3" y="383.2" width="16" height="16" fill="none" stroke="#4a3a3a" stroke-width="1.1" opacity="0.5"/>
<rect x="774.7" y="379.8" width="16" height="16" fill="none" stroke="#4a3a3a" stroke-width="1.1" opacity="0.5"/>
<rect x="787.2" y="376.4" width="16" height="16" fill="none" stroke="#4a3a3a" stroke-width="1.1" opacity="0.5"/>
<rect x="799.7" y="373.0" width="16" height="16" fill="none" stroke="#4a3a3a" stroke-width="1.1" opacity="0.5"/>
<rect x="812.2" y="369.5" width="16" height="16" fill="none" stroke="#4a3a3a" stroke-width="1.1" opacity="0.5"/>
<rect x="824.7" y="365.8" width="16" height="16" fill="none" stroke="#4a3a3a" stroke-width="1.1" opacity="0.5"/>
<rect x="837.1" y="361.4" width="16" height="16" fill="none" stroke="#4a3a3a" stroke-width="1.1" opacity="0.5"/>
<rect x="849.6" y="357.1" width="16" height="16" fill="none" stroke="#4a3a3a" stroke-width="1.1" opacity="0.5"/>
<rect x="862.1" y="352.5" width="16" height="16" fill="none" stroke="#4a3a3a" stroke-width="1.1" opacity="0.5"/>
<rect x="874.6" y="347.5" width="16" height="16" fill="none" stroke="#4a3a3a" stroke-width="1.1" opacity="0.5"/>
<rect x="887.1" y="342.5" width="16" height="16" fill="none" stroke="#4a3a3a" stroke-width="1.1" opacity="0.5"/>
<rect x="899.5" y="337.5" width="16" height="16" fill="none" stroke="#4a3a3a" stroke-width="1.1" opacity="0.5"/>
<rect x="912.0" y="332.5" width="16" height="16" fill="none" stroke="#4a3a3a" stroke-width="1.1" opacity="0.5"/>
<rect x="924.5" y="327.5" width="16" height="16" fill="none" stroke="#4a3a3a" stroke-width="1.1" opacity="0.5"/>
<rect x="937.0" y="322.9" width="16" height="16" fill="none" stroke="#4a3a3a" stroke-width="1.1" opacity="0.5"/>
<rect x="949.5" y="319.8" width="16" height="16" fill="none" stroke="#4a3a3a" stroke-width="1.1" opacity="0.5"/>
<rect x="961.9" y="316.7" width="16" height="16" fill="none" stroke="#4a3a3a" stroke-width="1.1" opacity="0.5"/>
<rect x="974.4" y="313.8" width="16" height="16" fill="none" stroke="#4a3a3a" stroke-width="1.1" opacity="0.5"/>
<rect x="986.9" y="312.5" width="16" height="16" fill="none" stroke="#4a3a3a" stroke-width="1.1" opacity="0.5"/>
<rect x="999.4" y="311.2" width="16" height="16" fill="none" stroke="#4a3a3a" stroke-width="1.1" opacity="0.5"/>
<rect x="1011.9" y="310.1" width="16" height="16" fill="none" stroke="#4a3a3a" stroke-width="1.1" opacity="0.5"/>
<rect x="1024.3" y="309.1" width="16" height="16" fill="none" stroke="#4a3a3a" stroke-width="1.1" opacity="0.5"/>
<rect x="1036.8" y="308.2" width="16" height="16" fill="none" stroke="#4a3a3a" stroke-width="1.1" opacity="0.5"/>
<rect x="1049.3" y="307.4" width="16" height="16" fill="none" stroke="#4a3a3a" stroke-width="1.1" opacity="0.5"/>
<rect x="1061.8" y="306.8" width="16" height="16" fill="none" stroke="#4a3a3a" stroke-width="1.1" opacity="0.5"/>
<rect x="1074.3" y="306.3" width="16" height="16" fill="none" stroke="#4a3a3a" stroke-width="1.1" opacity="0.5"/>
<rect x="1086.7" y="305.7" width="16" height="16" fill="none" stroke="#4a3a3a" stroke-width="1.1" opacity="0.5"/>
<rect x="1099.2" y="305.2" width="16" height="16" fill="none" stroke="#4a3a3a" stroke-width="1.1" opacity="0.5"/>
<rect x="1111.7" y="304.7" width="16" height="16" fill="none" stroke="#4a3a3a" stroke-width="1.1" opacity="0.5"/>
<rect x="1124.2" y="304.2" width="16" height="16" fill="none" stroke="#4a3a3a" stroke-width="1.1" opacity="0.5"/>
<rect x="1136.7" y="303.7" width="16" height="16" fill="none" stroke="#4a3a3a" stroke-width="1.1" opacity="0.5"/>
<rect x="1149.1" y="303.2" width="16" height="16" fill="none" stroke="#4a3a3a" stroke-width="1.1" opacity="0.5"/>
<rect x="1161.6" y="302.7" width="16" height="16" fill="none" stroke="#4a3a3a" stroke-width="1.1" opacity="0.5"/>
<rect x="1174.1" y="302.2" width="16" height="16" fill="none" stroke="#4a3a3a" stroke-width="1.1" opacity="0.5"/>
<rect x="1186.6" y="301.7" width="16" height="16" fill="none" stroke="#4a3a3a" stroke-width="1.1" opacity="0.5"/>
<rect x="1199.1" y="301.2" width="16" height="16" fill="none" stroke="#4a3a3a" stroke-width="1.1" opacity="0.5"/>
<rect x="1211.5" y="300.6" width="16" height="16" fill="none" stroke="#4a3a3a" stroke-width="1.1" opacity="0.5"/>
<rect x="1224.0" y="300.1" width="16" height="16" fill="none" stroke="#4a3a3a" stroke-width="1.1" opacity="0.5"/>
<rect x="1236.5" y="299.5" width="16" height="16" fill="none" stroke="#4a3a3a" stroke-width="1.1" opacity="0.5"/>
<rect x="1249.0" y="298.9" width="16" height="16" fill="none" stroke="#4a3a3a" stroke-width="1.1" opacity="0.5"/>
<rect x="1261.5" y="298.4" width="16" height="16" fill="none" stroke="#4a3a3a" stroke-width="1.1" opacity="0.5"/>
<rect x="1273.9" y="297.8" width="16" height="16" fill="none" stroke="#4a3a3a" stroke-width="1.1" opacity="0.5"/>
<rect x="1286.4" y="297.3" width="16" height="16" fill="none" stroke="#4a3a3a" stroke-width="1.1" opacity="0.5"/>
<rect x="1298.9" y="296.7" width="16" height="16" fill="none" stroke="#4a3a3a" stroke-width="1.1" opacity="0.5"/>
<rect x="1311.4" y="296.1" width="16" height="16" fill="none" stroke="#4a3a3a" stroke-width="1.1" opacity="0.5"/>
<rect x="1323.9" y="295.6" width="16" height="16" fill="none" stroke="#4a3a3a" stroke-width="1.1" opacity="0.5"/>
<rect x="1336.3" y="295.0" width="16" height="16" fill="none" stroke="#4a3a3a" stroke-width="1.1" opacity="0.5"/>
<rect x="1348.8" y="294.4" width="16" height="16" fill="none" stroke="#4a3a3a" stroke-width="1.1" opacity="0.5"/>
<rect x="1361.3" y="293.8" width="16" height="16" fill="none" stroke="#4a3a3a" stroke-width="1.1" opacity="0.5"/>
<rect x="1373.8" y="293.3" width="16" height="16" fill="none" stroke="#4a3a3a" stroke-width="1.1" opacity="0.5"/>
<rect x="1386.3" y="292.7" width="16" height="16" fill="none" stroke="#4a3a3a" stroke-width="1.1" opacity="0.5"/>
<rect x="1398.7" y="292.1" width="16" height="16" fill="none" stroke="#4a3a3a" stroke-width="1.1" opacity="0.5"/>
<rect x="1411.2" y="291.5" width="16" height="16" fill="none" stroke="#4a3a3a" stroke-width="1.1" opacity="0.5"/>
<rect x="1423.7" y="291.3" width="16" height="16" fill="none" stroke="#4a3a3a" stroke-width="1.1" opacity="0.5"/>
<rect x="1436.2" y="291.0" width="16" height="16" fill="none" stroke="#4a3a3a" stroke-width="1.1" opacity="0.5"/>
<rect x="1448.7" y="290.8" width="16" height="16" fill="none" stroke="#4a3a3a" stroke-width="1.1" opacity="0.5"/>
<rect x="1461.1" y="290.6" width="16" height="16" fill="none" stroke="#4a3a3a" stroke-width="1.1" opacity="0.5"/>
<rect x="1473.6" y="290.3" width="16" height="16" fill="none" stroke="#4a3a3a" stroke-width="1.1" opacity="0.5"/>
<rect x="1486.1" y="290.1" width="16" height="16" fill="none" stroke="#4a3a3a" stroke-width="1.1" opacity="0.5"/>
<rect x="1498.6" y="289.9" width="16" height="16" fill="none" stroke="#4a3a3a" stroke-width="1.1" opacity="0.5"/>
<rect x="1511.1" y="289.8" width="16" height="16" fill="none" stroke="#4a3a3a" stroke-width="1.1" opacity="0.5"/>
<rect x="1523.5" y="289.7" width="16" height="16" fill="none" stroke="#4a3a3a" stroke-width="1.1" opacity="0.5"/>
<rect x="1536.0" y="289.6" width="16" height="16" fill="none" stroke="#4a3a3a" stroke-width="1.1" opacity="0.5"/>
<rect x="1548.5" y="289.4" width="16" height="16" fill="none" stroke="#4a3a3a" stroke-width="1.1" opacity="0.5"/>
<rect x="1561.0" y="289.3" width="16" height="16" fill="none" stroke="#4a3a3a" stroke-width="1.1" opacity="0.5"/>
<rect x="1573.5" y="289.2" width="16" height="16" fill="none" stroke="#4a3a3a" stroke-width="1.1" opacity="0.5"/>
<rect x="1585.9" y="289.1" width="16" height="16" fill="none" stroke="#4a3a3a" stroke-width="1.1" opacity="0.5"/>
<rect x="1598.4" y="289.0" width="16" height="16" fill="none" stroke="#4a3a3a" stroke-width="1.1" opacity="0.5"/>
<rect x="1610.9" y="288.9" width="16" height="16" fill="none" stroke="#4a3a3a" stroke-width="1.1" opacity="0.5"/>
<rect x="1623.4" y="288.8" width="16" height="16" fill="none" stroke="#4a3a3a" stroke-width="1.1" opacity="0.5"/>
<rect x="1635.9" y="288.7" width="16" height="16" fill="none" stroke="#4a3a3a" stroke-width="1.1" opacity="0.5"/>
<rect x="1648.3" y="288.7" width="16" height="16" fill="none" stroke="#4a3a3a" stroke-width="1.1" opacity="0.5"/>
<rect x="1660.8" y="288.6" width="16" height="16" fill="none" stroke="#4a3a3a" stroke-width="1.1" opacity="0.5"/>
<path d="M433.3,499.0 C438.5,496.7 454.1,489.6 464.5,485.4 C474.9,481.1 485.3,477.8 495.7,473.6 C506.1,469.4 516.5,465.0 526.9,460.3 C537.3,455.6 547.7,450.5 558.1,445.5 C568.5,440.4 578.9,434.7 589.3,429.9 C599.7,425.0 610.1,420.1 620.5,416.2 C630.9,412.3 641.3,409.4 651.7,406.7 C662.1,404.1 672.5,402.1 682.9,400.4 C693.3,398.7 703.7,397.9 714.1,396.6 C724.5,395.4 734.9,394.4 745.3,392.9 C755.7,391.4 766.1,389.6 776.5,387.4 C786.9,385.2 797.3,382.4 807.7,379.7 C818.1,377.0 828.5,374.0 838.9,371.2 C849.3,368.4 859.7,365.4 870.1,362.7 C880.5,359.9 890.9,357.3 901.3,354.7 C911.7,352.0 922.1,349.0 932.5,346.7 C942.9,344.5 953.3,342.7 963.7,341.4 C974.1,340.2 984.5,339.9 994.9,339.3 C1005.3,338.8 1015.7,338.6 1026.1,337.9 C1036.5,337.3 1046.9,336.2 1057.2,335.4 C1067.6,334.6 1078.0,333.6 1088.4,333.3 C1098.8,333.0 1109.2,333.3 1119.6,333.3 C1130.0,333.3 1140.4,333.6 1150.8,333.2 C1161.2,332.8 1171.6,331.7 1182.0,330.9 C1192.4,330.2 1202.8,329.6 1213.2,328.7 C1223.6,327.8 1234.0,326.5 1244.4,325.6 C1254.8,324.7 1265.2,324.2 1275.6,323.3 C1286.0,322.4 1296.4,321.3 1306.8,320.3 C1317.2,319.3 1327.6,318.0 1338.0,317.3 C1348.4,316.5 1358.8,316.3 1369.2,316.0 C1379.6,315.7 1390.0,315.6 1400.4,315.5 C1410.8,315.4 1421.2,315.2 1431.6,315.5 C1442.0,315.8 1452.4,316.7 1462.8,317.1 C1473.2,317.5 1483.6,317.4 1494.0,317.9 C1504.4,318.4 1514.8,319.7 1525.2,320.2 C1535.6,320.7 1546.0,320.5 1556.4,321.1 C1566.8,321.6 1577.2,322.7 1587.6,323.5 C1598.0,324.3 1608.4,324.9 1618.8,325.7 C1629.2,326.5 1639.6,327.5 1650.0,328.1 C1660.4,328.8 1676.0,329.4 1681.2,329.6" fill="none" stroke="#ff00ff" stroke-width="7"/>
<path d="M433.3,487.0 L442.8,499.0 L433.3,511.0 L423.8,499.0 Z" fill="#ff00ff"/>
<path d="M464.5,473.4 L474.0,485.4 L464.5,497.4 L455.0,485.4 Z" fill="#ff00ff"/>
<path d="M495.7,461.6 L505.2,473.6 L495.7,485.6 L486.2,473.6 Z" fill="#ff00ff"/>
<path d="M526.9,448.3 L536.4,460.3 L526.9,472.3 L517.4,460.3 Z" fill="#ff00ff"/>
<path d="M558.1,433.5 L567.6,445.5 L558.1,457.5 L548.6,445.5 Z" fill="#ff00ff"/>
<path d="M589.3,417.9 L598.8,429.9 L589.3,441.9 L579.8,429.9 Z" fill="#ff00ff"/>
<path d="M620.5,404.2 L630.0,416.2 L620.5,428.2 L611.0,416.2 Z" fill="#ff00ff"/>
<path d="M651.7,394.7 L661.2,406.7 L651.7,418.7 L642.2,406.7 Z" fill="#ff00ff"/>
<path d="M682.9,388.4 L692.4,400.4 L682.9,412.4 L673.4,400.4 Z" fill="#ff00ff"/>
<path d="M714.1,384.6 L723.6,396.6 L714.1,408.6 L704.6,396.6 Z" fill="#ff00ff"/>
<path d="M745.3,380.9 L754.8,392.9 L745.3,404.9 L735.8,392.9 Z" fill="#ff00ff"/>
<path d="M776.5,375.4 L786.0,387.4 L776.5,399.4 L767.0,387.4 Z" fill="#ff00ff"/>
<path d="M807.7,367.7 L817.2,379.7 L807.7,391.7 L798.2,379.7 Z" fill="#ff00ff"/>
<path d="M838.9,359.2 L848.4,371.2 L838.9,383.2 L829.4,371.2 Z" fill="#ff00ff"/>
<path d="M870.1,350.7 L879.6,362.7 L870.1,374.7 L860.6,362.7 Z" fill="#ff00ff"/>
<path d="M901.3,342.7 L910.8,354.7 L901.3,366.7 L891.8,354.7 Z" fill="#ff00ff"/>
<path d="M932.5,334.7 L942.0,346.7 L932.5,358.7 L923.0,346.7 Z" fill="#ff00ff"/>
<path d="M963.7,329.4 L973.2,341.4 L963.7,353.4 L954.2,341.4 Z" fill="#ff00ff"/>
<path d="M994.9,327.3 L1004.4,339.3 L994.9,351.3 L985.4,339.3 Z" fill="#ff00ff"/>
<path d="M1026.1,325.9 L1035.6,337.9 L1026.1,349.9 L1016.6,337.9 Z" fill="#ff00ff"/>
<path d="M1057.2,323.4 L1066.8,335.4 L1057.2,347.4 L1047.8,335.4 Z" fill="#ff00ff"/>
<path d="M1088.4,321.3 L1097.9,333.3 L1088.4,345.3 L1078.9,333.3 Z" fill="#ff00ff"/>
<path d="M1119.6,321.3 L1129.1,333.3 L1119.6,345.3 L1110.1,333.3 Z" fill="#ff00ff"/>
<path d="M1150.8,321.2 L1160.3,333.2 L1150.8,345.2 L1141.3,333.2 Z" fill="#ff00ff"/>
<path d="M1182.0,318.9 L1191.5,330.9 L1182.0,342.9 L1172.5,330.9 Z" fill="#ff00ff"/>
<path d="M1213.2,316.7 L1222.7,328.7 L1213.2,340.7 L1203.7,328.7 Z" fill="#ff00ff"/>
<path d="M1244.4,313.6 L1253.9,325.6 L1244.4,337.6 L1234.9,325.6 Z" fill="#ff00ff"/>
<path d="M1275.6,311.3 L1285.1,323.3 L1275.6,335.3 L1266.1,323.3 Z" fill="#ff00ff"/>
<path d="M1306.8,308.3 L1316.3,320.3 L1306.8,332.3 L1297.3,320.3 Z" fill="#ff00ff"/>
<path d="M1338.0,305.3 L1347.5,317.3 L1338.0,329.3 L1328.5,317.3 Z" fill="#ff00ff"/>
<path d="M1369.2,304.0 L1378.7,316.0 L1369.2,328.0 L1359.7,316.0 Z" fill="#ff00ff"/>
<path d="M1400.4,303.5 L1409.9,315.5 L1400.4,327.5 L1390.9,315.5 Z" fill="#ff00ff"/>
<path d="M1431.6,303.5 L1441.1,315.5 L1431.6,327.5 L1422.1,315.5 Z" fill="#ff00ff"/>
<path d="M1462.8,305.1 L1472.3,317.1 L1462.8,329.1 L1453.3,317.1 Z" fill="#ff00ff"/>
<path d="M1494.0,305.9 L1503.5,317.9 L1494.0,329.9 L1484.5,317.9 Z" fill="#ff00ff"/>
<path d="M1525.2,308.2 L1534.7,320.2 L1525.2,332.2 L1515.7,320.2 Z" fill="#ff00ff"/>
<path d="M1556.4,309.1 L1565.9,321.1 L1556.4,333.1 L1546.9,321.1 Z" fill="#ff00ff"/>
<path d="M1587.6,311.5 L1597.1,323.5 L1587.6,335.5 L1578.1,323.5 Z" fill="#ff00ff"/>
<path d="M1618.8,313.7 L1628.3,325.7 L1618.8,337.7 L1609.3,325.7 Z" fill="#ff00ff"/>
<path d="M1650.0,316.1 L1659.5,328.1 L1650.0,340.1 L1640.5,328.1 Z" fill="#ff00ff"/>
<path d="M1681.2,317.6 L1690.7,329.6 L1681.2,341.6 L1671.7,329.6 Z" fill="#ff00ff"/>
</g>
<rect x="433.3" y="77.0" width="1247.9" height="876.3" fill="none" stroke="#000" stroke-width="7"/>
<line x1="433.3" y1="873.5" x2="444.8" y2="873.5" stroke="#000" stroke-width="6"/>
<line x1="1681.2" y1="873.5" x2="1669.7" y2="873.5" stroke="#000" stroke-width="6"/>
<line x1="433.3" y1="785.0" x2="451.8" y2="785.0" stroke="#000" stroke-width="6"/>
<line x1="1681.2" y1="785.0" x2="1662.7" y2="785.0" stroke="#000" stroke-width="6"/>
<line x1="433.3" y1="696.5" x2="444.8" y2="696.5" stroke="#000" stroke-width="6"/>
<line x1="1681.2" y1="696.5" x2="1669.7" y2="696.5" stroke="#000" stroke-width="6"/>
<line x1="433.3" y1="608.0" x2="451.8" y2="608.0" stroke="#000" stroke-width="6"/>
<line x1="1681.2" y1="608.0" x2="1662.7" y2="608.0" stroke="#000" stroke-width="6"/>
<line x1="433.3" y1="519.5" x2="444.8" y2="519.5" stroke="#000" stroke-width="6"/>
<line x1="1681.2" y1="519.5" x2="1669.7" y2="519.5" stroke="#000" stroke-width="6"/>
<line x1="433.3" y1="431.0" x2="451.8" y2="431.0" stroke="#000" stroke-width="6"/>
<line x1="1681.2" y1="431.0" x2="1662.7" y2="431.0" stroke="#000" stroke-width="6"/>
<line x1="433.3" y1="342.5" x2="444.8" y2="342.5" stroke="#000" stroke-width="6"/>
<line x1="1681.2" y1="342.5" x2="1669.7" y2="342.5" stroke="#000" stroke-width="6"/>
<line x1="433.3" y1="254.0" x2="451.8" y2="254.0" stroke="#000" stroke-width="6"/>
<line x1="1681.2" y1="254.0" x2="1662.7" y2="254.0" stroke="#000" stroke-width="6"/>
<line x1="433.3" y1="165.5" x2="444.8" y2="165.5" stroke="#000" stroke-width="6"/>
<line x1="1681.2" y1="165.5" x2="1669.7" y2="165.5" stroke="#000" stroke-width="6"/>
<line x1="433.3" y1="77.0" x2="451.8" y2="77.0" stroke="#000" stroke-width="6"/>
<line x1="1681.2" y1="77.0" x2="1662.7" y2="77.0" stroke="#000" stroke-width="6"/>
<line x1="433.3" y1="953.3" x2="433.3" y2="934.8" stroke="#000" stroke-width="6"/>
<line x1="433.3" y1="77.0" x2="433.3" y2="95.5" stroke="#000" stroke-width="6"/>
<line x1="589.3" y1="953.3" x2="589.3" y2="941.8" stroke="#000" stroke-width="6"/>
<line x1="589.3" y1="77.0" x2="589.3" y2="88.5" stroke="#000" stroke-width="6"/>
<line x1="745.3" y1="953.3" x2="745.3" y2="934.8" stroke="#000" stroke-width="6"/>
<line x1="745.3" y1="77.0" x2="745.3" y2="95.5" stroke="#000" stroke-width="6"/>
<line x1="901.3" y1="953.3" x2="901.3" y2="941.8" stroke="#000" stroke-width="6"/>
<line x1="901.3" y1="77.0" x2="901.3" y2="88.5" stroke="#000" stroke-width="6"/>
<line x1="1057.2" y1="953.3" x2="1057.2" y2="934.8" stroke="#000" stroke-width="6"/>
<line x1="1057.2" y1="77.0" x2="1057.2" y2="95.5" stroke="#000" stroke-width="6"/>
<line x1="1213.2" y1="953.3" x2="1213.2" y2="941.8" stroke="#000" stroke-width="6"/>
<line x1="1213.2" y1="77.0" x2="1213.2" y2="88.5" stroke="#000" stroke-width="6"/>
<line x1="1369.2" y1="953.3" x2="1369.2" y2="934.8" stroke="#000" stroke-width="6"/>
<line x1="1369.2" y1="77.0" x2="1369.2" y2="95.5" stroke="#000" stroke-width="6"/>
<line x1="1525.2" y1="953.3" x2="1525.2" y2="941.8" stroke="#000" stroke-width="6"/>
<line x1="1525.2" y1="77.0" x2="1525.2" y2="88.5" stroke="#000" stroke-width="6"/>
<line x1="1681.2" y1="953.3" x2="1681.2" y2="934.8" stroke="#000" stroke-width="6"/>
<line x1="1681.2" y1="77.0" x2="1681.2" y2="95.5" stroke="#000" stroke-width="6"/>
</g>
<g font-family="'Liberation Serif', 'Times New Roman', serif" font-weight="bold" fill="#000">
<text x="415.7" y="804.3" font-size="66" text-anchor="end">20</text>
<text x="415.7" y="627.3" font-size="66" text-anchor="end">40</text>
<text x="415.7" y="450.3" font-size="66" text-anchor="end">60</text>
<text x="415.7" y="273.3" font-size="66" text-anchor="end">80</text>
<text x="415.7" y="96.3" font-size="66" text-anchor="end">100</text>
<text x="432.6" y="1022.2" font-size="66" text-anchor="middle">400</text>
<text x="743.7" y="1022.2" font-size="66" text-anchor="middle">500</text>
<text x="1055.9" y="1022.2" font-size="66" text-anchor="middle">600</text>
<text x="1367.1" y="1022.2" font-size="66" text-anchor="middle">700</text>
<text x="1679.9" y="1022.2" font-size="66" text-anchor="middle">800</text>
<text x="1057.4" y="1127.4" font-size="66" text-anchor="middle">Wavelength (nm)</text>
<text transform="translate(277.5,514.0) rotate(-90)" font-size="67.6" text-anchor="middle">Transmittance (%)</text>
<text x="476.2" y="190.0" font-size="100">(a)</text>
<text x="1113.9" y="1305.5" font-size="100">(b)</text>
<text x="1808.5" y="522.9" font-size="48">VB12</text>
<text x="1808.7" y="582.1" font-size="48">Co-acetate</text>
<text x="1808.5" y="641.4" font-size="48">VB12+CB</text>
<text x="1808.7" y="700.6" font-size="48">Co-acetate+CB</text>
<text x="1808.7" y="759.8" font-size="48">CoCB</text>
<text x="1808.7" y="819.1" font-size="48">CB 1.5 M</text>
<text x="1810.2" y="878.3" font-size="48">Pt</text>
<text x="1810.2" y="937.5" font-size="48">FTO</text>
</g>
<rect x="1744" y="500.3" width="17.5" height="17.5" fill="#fff" stroke="#000" stroke-width="2"/>
<circle cx="1752.3" cy="568.5" r="9.5" fill="#fff" stroke="#e87878" stroke-width="1.6"/>
<line x1="1706" y1="627.8" x2="1799.5" y2="627.8" stroke="#000" stroke-width="5"/>
<rect x="1743.5" y="618.8" width="18.5" height="18.5" fill="#000"/>
<line x1="1706" y1="687.0" x2="1799.5" y2="687.0" stroke="#d84a4a" stroke-width="6"/>
<rect x="1743.5" y="678.0" width="18.5" height="18.5" fill="#f00000"/>
<line x1="1705" y1="746.2" x2="1800" y2="746.2" stroke="#ff00ff" stroke-width="6"/>
<path d="M1752.3,733.7 L1762,746.2 L1752.3,758.7 L1742.6,746.2 Z" fill="#ff00ff"/>
<line x1="1704" y1="805.5" x2="1734" y2="805.5" stroke="#8a9412" stroke-width="6.5"/>
<line x1="1759" y1="805.5" x2="1789" y2="805.5" stroke="#8a9412" stroke-width="6.5"/>
<line x1="1704" y1="864.7" x2="1734" y2="864.7" stroke="#10107a" stroke-width="6.5"/>
<line x1="1759" y1="864.7" x2="1789" y2="864.7" stroke="#10107a" stroke-width="6.5"/>
<line x1="1704" y1="923.9" x2="1734" y2="923.9" stroke="#7a10f8" stroke-width="6.5"/>
<line x1="1759" y1="923.9" x2="1789" y2="923.9" stroke="#7a10f8" stroke-width="6.5"/>
<defs><linearGradient id="bgl1" x1="0" y1="0" x2="0" y2="1"><stop offset="0" stop-color="#a09f97"/><stop offset="0.12" stop-color="#979689"/><stop offset="0.55" stop-color="#8c8b7d"/><stop offset="1" stop-color="#969589"/></linearGradient><linearGradient id="bgl2" x1="0" y1="0" x2="0" y2="1"><stop offset="0" stop-color="#adacab"/><stop offset="0.15" stop-color="#a4a3a0"/><stop offset="0.55" stop-color="#9e9c97"/><stop offset="1" stop-color="#a5a4a1"/></linearGradient></defs>
<defs><filter id="pb" x="-5%" y="-5%" width="110%" height="110%"><feGaussianBlur stdDeviation="1.7"/></filter><filter id="pb2" x="-10%" y="-10%" width="120%" height="120%"><feGaussianBlur stdDeviation="2.6"/></filter><filter id="pbt" x="-5%" y="-20%" width="110%" height="140%"><feGaussianBlur stdDeviation="1.1"/></filter></defs>
<g>
<rect x="39" y="1362" width="240" height="240" fill="#838183"/>
<g filter="url(#pb)">
<rect x="39" y="1362" width="240" height="22" fill="#9b999e"/>
<defs><linearGradient id="ptr" x1="0" y1="0" x2="1" y2="0"><stop offset="0" stop-color="#5f5f5a"/><stop offset="0.55" stop-color="#6a6a65"/><stop offset="0.8" stop-color="#7a7a76"/><stop offset="1" stop-color="#929194"/></linearGradient></defs>
<rect x="45" y="1387" width="234" height="215" fill="#5f5f5a"/>
<rect x="219" y="1387" width="60" height="215" fill="url(#ptr)"/>
<rect x="49" y="1389" width="210" height="12" fill="#7e7e78"/>
<ellipse cx="234" cy="1512" rx="14" ry="40" fill="#6e6252" opacity="0.8"/>
<circle cx="142.5" cy="1465.4" r="59.5" fill="#3a3d2e"/>
<defs><linearGradient id="rg0" gradientUnits="userSpaceOnUse" x1="65.0" y1="1465.4" x2="220.0" y2="1488.7"><stop offset="0" stop-color="#23262f"/><stop offset="0.45" stop-color="#272e3b"/><stop offset="1" stop-color="#272e3b"/></linearGradient><clipPath id="rc0"><rect x="60.0" y="1471.4" width="165.0" height="87.5"/></clipPath></defs>
<circle cx="142.5" cy="1465.4" r="67.50" fill="none" stroke="#23262f" stroke-width="20.0"/>
<circle cx="142.5" cy="1465.4" r="67.50" fill="none" stroke="url(#rg0)" stroke-width="20.0" clip-path="url(#rc0)"/>
<text transform="translate(84.0,1431.7) rotate(-60.0)" font-family="'Liberation Serif', 'Noto Serif CJK TC', 'Noto Serif CJK SC', serif" font-weight="700" font-size="12.0" fill="#8e94b4" opacity="0.75" text-anchor="middle" dy="4.2">國</text>
<text transform="translate(102.8,1410.8) rotate(-36.0)" font-family="'Liberation Serif', 'Noto Serif CJK TC', 'Noto Serif CJK SC', serif" font-weight="700" font-size="12.0" fill="#8e94b4" opacity="0.75" text-anchor="middle" dy="4.2">立</text>
<text transform="translate(128.5,1399.4) rotate(-12.0)" font-family="'Liberation Serif', 'Noto Serif CJK TC', 'Noto Serif CJK SC', serif" font-weight="700" font-size="12.0" fill="#8e94b4" opacity="0.75" text-anchor="middle" dy="4.2">聯</text>
<text transform="translate(156.5,1399.4) rotate(12.0)" font-family="'Liberation Serif', 'Noto Serif CJK TC', 'Noto Serif CJK SC', serif" font-weight="700" font-size="12.0" fill="#8e94b4" opacity="0.75" text-anchor="middle" dy="4.2">合</text>
<text transform="translate(182.2,1410.8) rotate(36.0)" font-family="'Liberation Serif', 'Noto Serif CJK TC', 'Noto Serif CJK SC', serif" font-weight="700" font-size="12.0" fill="#8e94b4" opacity="0.75" text-anchor="middle" dy="4.2">大</text>
<text transform="translate(201.0,1431.7) rotate(60.0)" font-family="'Liberation Serif', 'Noto Serif CJK TC', 'Noto Serif CJK SC', serif" font-weight="700" font-size="12.0" fill="#8e94b4" opacity="0.75" text-anchor="middle" dy="4.2">學</text>
<text transform="translate(92.3,1510.6) rotate(48.0)" font-family="'Liberation Serif', 'Times New Roman', serif" font-weight="700" font-size="6.0" fill="#98a0c4" opacity="0.7" text-anchor="middle" dy="2.1">N</text>
<text transform="translate(95.5,1513.8) rotate(44.2)" font-family="'Liberation Serif', 'Times New Roman', serif" font-weight="700" font-size="6.0" fill="#98a0c4" opacity="0.7" text-anchor="middle" dy="2.1">A</text>
<text transform="translate(98.8,1516.9) rotate(40.3)" font-family="'Liberation Serif', 'Times New Roman', serif" font-weight="700" font-size="6.0" fill="#98a0c4" opacity="0.7" text-anchor="middle" dy="2.1">T</text>
<text transform="translate(102.4,1519.7) rotate(36.5)" font-family="'Liberation Serif', 'Times New Roman', serif" font-weight="700" font-size="6.0" fill="#98a0c4" opacity="0.7" text-anchor="middle" dy="2.1">I</text>
<text transform="translate(106.1,1522.2) rotate(32.6)" font-family="'Liberation Serif', 'Times New Roman', serif" font-weight="700" font-size="6.0" fill="#98a0c4" opacity="0.7" text-anchor="middle" dy="2.1">O</text>
<text transform="translate(110.0,1524.6) rotate(28.8)" font-family="'Liberation Serif', 'Times New Roman', serif" font-weight="700" font-size="6.0" fill="#98a0c4" opacity="0.7" text-anchor="middle" dy="2.1">N</text>
<text transform="translate(114.0,1526.6) rotate(25.0)" font-family="'Liberation Serif', 'Times New Roman', serif" font-weight="700" font-size="6.0" fill="#98a0c4" opacity="0.7" text-anchor="middle" dy="2.1">A</text>
<text transform="translate(118.2,1528.4) rotate(21.1)" font-family="'Liberation Serif', 'Times New Roman', serif" font-weight="700" font-size="6.0" fill="#98a0c4" opacity="0.7" text-anchor="middle" dy="2.1">L</text>
<text transform="translate(126.8,1531.1) rotate(13.4)" font-family="'Liberation Serif', 'Times New Roman', serif" font-weight="700" font-size="6.0" fill="#98a0c4" opacity="0.7" text-anchor="middle" dy="2.1">U</text>
<text transform="translate(131.2,1532.0) rotate(9.6)" font-family="'Liberation Serif', 'Times New Roman', serif" font-weight="700" font-size="6.0" fill="#98a0c4" opacity="0.7" text-anchor="middle" dy="2.1">N</text>
<text transform="translate(135.7,1532.6) rotate(5.8)" font-family="'Liberation Serif', 'Times New Roman', serif" font-weight="700" font-size="6.0" fill="#98a0c4" opacity="0.7" text-anchor="middle" dy="2.1">I</text>
<text transform="translate(140.2,1532.9) rotate(1.9)" font-family="'Liberation Serif', 'Times New Roman', serif" font-weight="700" font-size="6.0" fill="#98a0c4" opacity="0.7" text-anchor="middle" dy="2.1">T</text>
<text transform="translate(144.8,1532.9) rotate(-1.9)" font-family="'Liberation Serif', 'Times New Roman', serif" font-weight="700" font-size="6.0" fill="#98a0c4" opacity="0.7" text-anchor="middle" dy="2.1">E</text>
<text transform="translate(149.3,1532.6) rotate(-5.8)" font-family="'Liberation Serif', 'Times New Roman', serif" font-weight="700" font-size="6.0" fill="#98a0c4" opacity="0.7" text-anchor="middle" dy="2.1">D</text>
<text transform="translate(158.2,1531.1) rotate(-13.4)" font-family="'Liberation Serif', 'Times New Roman', serif" font-weight="700" font-size="6.0" fill="#98a0c4" opacity="0.7" text-anchor="middle" dy="2.1">U</text>
<text transform="translate(162.6,1529.9) rotate(-17.3)" font-family="'Liberation Serif', 'Times New Roman', serif" font-weight="700" font-size="6.0" fill="#98a0c4" opacity="0.7" text-anchor="middle" dy="2.1">N</text>
<text transform="translate(166.8,1528.4) rotate(-21.1)" font-family="'Liberation Serif', 'Times New Roman', serif" font-weight="700" font-size="6.0" fill="#98a0c4" opacity="0.7" text-anchor="middle" dy="2.1">I</text>
<text transform="translate(171.0,1526.6) rotate(-25.0)" font-family="'Liberation Serif', 'Times New Roman', serif" font-weight="700" font-size="6.0" fill="#98a0c4" opacity="0.7" text-anchor="middle" dy="2.1">V</text>
<text transform="translate(175.0,1524.6) rotate(-28.8)" font-family="'Liberation Serif', 'Times New Roman', serif" font-weight="700" font-size="6.0" fill="#98a0c4" opacity="0.7" text-anchor="middle" dy="2.1">E</text>
<text transform="translate(178.9,1522.2) rotate(-32.6)" font-family="'Liberation Serif', 'Times New Roman', serif" font-weight="700" font-size="6.0" fill="#98a0c4" opacity="0.7" text-anchor="middle" dy="2.1">R</text>
<text transform="translate(182.6,1519.7) rotate(-36.5)" font-family="'Liberation Serif', 'Times New Roman', serif" font-weight="700" font-size="6.0" fill="#98a0c4" opacity="0.7" text-anchor="middle" dy="2.1">S</text>
<text transform="translate(186.2,1516.9) rotate(-40.3)" font-family="'Liberation Serif', 'Times New Roman', serif" font-weight="700" font-size="6.0" fill="#98a0c4" opacity="0.7" text-anchor="middle" dy="2.1">I</text>
<text transform="translate(189.5,1513.8) rotate(-44.2)" font-family="'Liberation Serif', 'Times New Roman', serif" font-weight="700" font-size="6.0" fill="#98a0c4" opacity="0.7" text-anchor="middle" dy="2.1">T</text>
<text transform="translate(192.7,1510.6) rotate(-48.0)" font-family="'Liberation Serif', 'Times New Roman', serif" font-weight="700" font-size="6.0" fill="#98a0c4" opacity="0.7" text-anchor="middle" dy="2.1">Y</text>
<circle cx="76.0" cy="1453.7" r="2.6" fill="#9aa2c4" opacity="0.7"/>
<circle cx="209.0" cy="1453.7" r="2.6" fill="#9aa2c4" opacity="0.7"/>
<rect x="113.8" y="1422.3" width="57.5" height="44.1" rx="22.0" fill="#3f4a2c" transform="rotate(90 142.5 1444.3)"/>
<rect x="90.3" y="1460.1" width="57.5" height="38.3" rx="19.2" fill="#2e3524" transform="rotate(-30 119.0 1479.3)"/>
<rect x="137.2" y="1460.1" width="57.5" height="38.3" rx="19.2" fill="#27291f" transform="rotate(30 166.0 1479.3)"/>
<rect x="150.2" y="1450.1" width="13.4" height="19.2" fill="#3f4a2c" opacity="0.85"/>
<ellipse cx="143.5" cy="1447.2" rx="6.7" ry="7.7" fill="#27291f" opacity="0.9"/>
<ellipse cx="143.3" cy="1432.8" rx="7.7" ry="6.2" fill="#4a4e3a"/>
<ellipse cx="115.0" cy="1480.0" rx="9.1" ry="7.2" fill="#4a4e3a" transform="rotate(-30 115.0 1480.0)"/>
<ellipse cx="170.2" cy="1480.6" rx="9.1" ry="7.2" fill="#4a4e3a" transform="rotate(30 170.2 1480.6)"/>
<ellipse cx="141.5" cy="1464.4" rx="8.6" ry="7.7" fill="#4a4e3a"/>
<rect x="60" y="1590" width="168" height="10" fill="#3c4846"/>
<rect x="68" y="1594.0" width="152" height="2" fill="#7a8a80" opacity="0.6"/>
</g>
<text x="60.0" y="1581.2" font-family="'Liberation Serif', 'Noto Serif CJK TC', 'Noto Serif CJK SC', serif" font-weight="900" font-size="37.8" letter-spacing="5.8" fill="#2a2a2a" stroke="#2a2a2a" stroke-width="0.6" opacity="0.75" filter="url(#pbt)">聯合大學</text>
</g>
<g>
<rect x="375" y="1363" width="240" height="239" fill="#959390"/>
<g filter="url(#pb)">
<rect x="397" y="1387" width="190" height="215" fill="#7b7974"/>
<circle cx="490" cy="1456.5" r="62.5" fill="#62625a"/>
<defs><linearGradient id="rg1" gradientUnits="userSpaceOnUse" x1="405.5" y1="1456.5" x2="574.5" y2="1481.8"><stop offset="0" stop-color="#23283b"/><stop offset="0.45" stop-color="#2a3550"/><stop offset="1" stop-color="#2a3550"/></linearGradient><clipPath id="rc1"><rect x="400.5" y="1462.5" width="179.0" height="94.5"/></clipPath></defs>
<circle cx="490" cy="1456.5" r="72.50" fill="none" stroke="#23283b" stroke-width="24.0"/>
<circle cx="490" cy="1456.5" r="72.50" fill="none" stroke="url(#rg1)" stroke-width="24.0" clip-path="url(#rc1)"/>
<text transform="translate(427.2,1420.2) rotate(-60.0)" font-family="'Liberation Serif', 'Noto Serif CJK TC', 'Noto Serif CJK SC', serif" font-weight="700" font-size="14.4" fill="#8e94b4" opacity="0.75" text-anchor="middle" dy="5.0">國</text>
<text transform="translate(447.4,1397.8) rotate(-36.0)" font-family="'Liberation Serif', 'Noto Serif CJK TC', 'Noto Serif CJK SC', serif" font-weight="700" font-size="14.4" fill="#8e94b4" opacity="0.75" text-anchor="middle" dy="5.0">立</text>
<text transform="translate(474.9,1385.6) rotate(-12.0)" font-family="'Liberation Serif', 'Noto Serif CJK TC', 'Noto Serif CJK SC', serif" font-weight="700" font-size="14.4" fill="#8e94b4" opacity="0.75" text-anchor="middle" dy="5.0">聯</text>
<text transform="translate(505.1,1385.6) rotate(12.0)" font-family="'Liberation Serif', 'Noto Serif CJK TC', 'Noto Serif CJK SC', serif" font-weight="700" font-size="14.4" fill="#8e94b4" opacity="0.75" text-anchor="middle" dy="5.0">合</text>
<text transform="translate(532.6,1397.8) rotate(36.0)" font-family="'Liberation Serif', 'Noto Serif CJK TC', 'Noto Serif CJK SC', serif" font-weight="700" font-size="14.4" fill="#8e94b4" opacity="0.75" text-anchor="middle" dy="5.0">大</text>
<text transform="translate(552.8,1420.2) rotate(60.0)" font-family="'Liberation Serif', 'Noto Serif CJK TC', 'Noto Serif CJK SC', serif" font-weight="700" font-size="14.4" fill="#8e94b4" opacity="0.75" text-anchor="middle" dy="5.0">學</text>
<text transform="translate(436.1,1505.0) rotate(48.0)" font-family="'Liberation Serif', 'Times New Roman', serif" font-weight="700" font-size="7.2" fill="#98a0c4" opacity="0.7" text-anchor="middle" dy="2.5">N</text>
<text transform="translate(439.5,1508.5) rotate(44.2)" font-family="'Liberation Serif', 'Times New Roman', serif" font-weight="700" font-size="7.2" fill="#98a0c4" opacity="0.7" text-anchor="middle" dy="2.5">A</text>
<text transform="translate(443.1,1511.8) rotate(40.3)" font-family="'Liberation Serif', 'Times New Roman', serif" font-weight="700" font-size="7.2" fill="#98a0c4" opacity="0.7" text-anchor="middle" dy="2.5">T</text>
<text transform="translate(446.9,1514.8) rotate(36.5)" font-family="'Liberation Serif', 'Times New Roman', serif" font-weight="700" font-size="7.2" fill="#98a0c4" opacity="0.7" text-anchor="middle" dy="2.5">I</text>
<text transform="translate(450.9,1517.6) rotate(32.6)" font-family="'Liberation Serif', 'Times New Roman', serif" font-weight="700" font-size="7.2" fill="#98a0c4" opacity="0.7" text-anchor="middle" dy="2.5">O</text>
<text transform="translate(455.1,1520.0) rotate(28.8)" font-family="'Liberation Serif', 'Times New Roman', serif" font-weight="700" font-size="7.2" fill="#98a0c4" opacity="0.7" text-anchor="middle" dy="2.5">N</text>
<text transform="translate(459.4,1522.2) rotate(25.0)" font-family="'Liberation Serif', 'Times New Roman', serif" font-weight="700" font-size="7.2" fill="#98a0c4" opacity="0.7" text-anchor="middle" dy="2.5">A</text>
<text transform="translate(463.9,1524.1) rotate(21.1)" font-family="'Liberation Serif', 'Times New Roman', serif" font-weight="700" font-size="7.2" fill="#98a0c4" opacity="0.7" text-anchor="middle" dy="2.5">L</text>
<text transform="translate(473.1,1527.0) rotate(13.4)" font-family="'Liberation Serif', 'Times New Roman', serif" font-weight="700" font-size="7.2" fill="#98a0c4" opacity="0.7" text-anchor="middle" dy="2.5">U</text>
<text transform="translate(477.9,1528.0) rotate(9.6)" font-family="'Liberation Serif', 'Times New Roman', serif" font-weight="700" font-size="7.2" fill="#98a0c4" opacity="0.7" text-anchor="middle" dy="2.5">N</text>
<text transform="translate(482.7,1528.6) rotate(5.8)" font-family="'Liberation Serif', 'Times New Roman', serif" font-weight="700" font-size="7.2" fill="#98a0c4" opacity="0.7" text-anchor="middle" dy="2.5">I</text>
<text transform="translate(487.6,1529.0) rotate(1.9)" font-family="'Liberation Serif', 'Times New Roman', serif" font-weight="700" font-size="7.2" fill="#98a0c4" opacity="0.7" text-anchor="middle" dy="2.5">T</text>
<text transform="translate(492.4,1529.0) rotate(-1.9)" font-family="'Liberation Serif', 'Times New Roman', serif" font-weight="700" font-size="7.2" fill="#98a0c4" opacity="0.7" text-anchor="middle" dy="2.5">E</text>
<text transform="translate(497.3,1528.6) rotate(-5.8)" font-family="'Liberation Serif', 'Times New Roman', serif" font-weight="700" font-size="7.2" fill="#98a0c4" opacity="0.7" text-anchor="middle" dy="2.5">D</text>
<text transform="translate(506.9,1527.0) rotate(-13.4)" font-family="'Liberation Serif', 'Times New Roman', serif" font-weight="700" font-size="7.2" fill="#98a0c4" opacity="0.7" text-anchor="middle" dy="2.5">U</text>
<text transform="translate(511.5,1525.7) rotate(-17.3)" font-family="'Liberation Serif', 'Times New Roman', serif" font-weight="700" font-size="7.2" fill="#98a0c4" opacity="0.7" text-anchor="middle" dy="2.5">N</text>
<text transform="translate(516.1,1524.1) rotate(-21.1)" font-family="'Liberation Serif', 'Times New Roman', serif" font-weight="700" font-size="7.2" fill="#98a0c4" opacity="0.7" text-anchor="middle" dy="2.5">I</text>
<text transform="translate(520.6,1522.2) rotate(-25.0)" font-family="'Liberation Serif', 'Times New Roman', serif" font-weight="700" font-size="7.2" fill="#98a0c4" opacity="0.7" text-anchor="middle" dy="2.5">V</text>
<text transform="translate(524.9,1520.0) rotate(-28.8)" font-family="'Liberation Serif', 'Times New Roman', serif" font-weight="700" font-size="7.2" fill="#98a0c4" opacity="0.7" text-anchor="middle" dy="2.5">E</text>
<text transform="translate(529.1,1517.6) rotate(-32.6)" font-family="'Liberation Serif', 'Times New Roman', serif" font-weight="700" font-size="7.2" fill="#98a0c4" opacity="0.7" text-anchor="middle" dy="2.5">R</text>
<text transform="translate(533.1,1514.8) rotate(-36.5)" font-family="'Liberation Serif', 'Times New Roman', serif" font-weight="700" font-size="7.2" fill="#98a0c4" opacity="0.7" text-anchor="middle" dy="2.5">S</text>
<text transform="translate(536.9,1511.8) rotate(-40.3)" font-family="'Liberation Serif', 'Times New Roman', serif" font-weight="700" font-size="7.2" fill="#98a0c4" opacity="0.7" text-anchor="middle" dy="2.5">I</text>
<text transform="translate(540.5,1508.5) rotate(-44.2)" font-family="'Liberation Serif', 'Times New Roman', serif" font-weight="700" font-size="7.2" fill="#98a0c4" opacity="0.7" text-anchor="middle" dy="2.5">T</text>
<text transform="translate(543.9,1505.0) rotate(-48.0)" font-family="'Liberation Serif', 'Times New Roman', serif" font-weight="700" font-size="7.2" fill="#98a0c4" opacity="0.7" text-anchor="middle" dy="2.5">Y</text>
<circle cx="418.6" cy="1443.9" r="2.6" fill="#9aa2c4" opacity="0.7"/>
<circle cx="561.4" cy="1443.9" r="2.6" fill="#9aa2c4" opacity="0.7"/>
<rect x="459.8" y="1411.1" width="60.5" height="46.4" rx="23.2" fill="#4c6538" transform="rotate(90 490.0 1434.3)"/>
<rect x="435.0" y="1451.0" width="60.5" height="40.3" rx="20.2" fill="#29341f" transform="rotate(-30 465.3 1471.1)"/>
<rect x="484.5" y="1451.0" width="60.5" height="40.3" rx="20.2" fill="#1f2619" transform="rotate(30 514.7 1471.1)"/>
<rect x="498.1" y="1440.4" width="14.1" height="20.2" fill="#4c6538" opacity="0.85"/>
<ellipse cx="491.0" cy="1437.3" rx="7.1" ry="8.1" fill="#1f2619" opacity="0.9"/>
<ellipse cx="490.8" cy="1422.2" rx="8.1" ry="6.6" fill="#62684f"/>
<ellipse cx="461.1" cy="1471.8" rx="9.6" ry="7.6" fill="#62684f" transform="rotate(-30 461.1 1471.8)"/>
<ellipse cx="519.1" cy="1472.5" rx="9.6" ry="7.6" fill="#62684f" transform="rotate(30 519.1 1472.5)"/>
<ellipse cx="489.0" cy="1455.5" rx="9.1" ry="8.1" fill="#62684f"/>
<rect x="399" y="1591" width="179" height="9" fill="#4a5450"/>
<rect x="407" y="1594.5" width="163" height="2" fill="#7a8a80" opacity="0.6"/>
</g>
<text x="399.0" y="1577.4" font-family="'Liberation Serif', 'Noto Serif CJK TC', 'Noto Serif CJK SC', serif" font-weight="900" font-size="35.6" letter-spacing="11.8" fill="#302c2c" stroke="#302c2c" stroke-width="0.6" opacity="0.95" filter="url(#pbt)">聯合大學</text>
</g>
<g>
<rect x="709" y="1360" width="239" height="241" fill="url(#bgl1)"/>
<g filter="url(#pb)">
<rect x="709" y="1360" width="239" height="5" fill="#a3a29c"/>
<rect x="709" y="1360" width="5" height="241" fill="#a3a29c" opacity="0.7"/>
<circle cx="818.7" cy="1448" r="60" fill="#858370"/>
<defs><linearGradient id="rg2" gradientUnits="userSpaceOnUse" x1="733.7" y1="1448.0" x2="903.7" y2="1473.5"><stop offset="0" stop-color="#2e3858"/><stop offset="0.45" stop-color="#37497c"/><stop offset="1" stop-color="#37497c"/></linearGradient><clipPath id="rc2"><rect x="728.7" y="1454.0" width="180.0" height="95.0"/></clipPath></defs>
<circle cx="818.7" cy="1448" r="72.50" fill="none" stroke="#2a2e45" stroke-width="25"/>
<circle cx="818.7" cy="1448" r="72.50" fill="none" stroke="url(#rg2)" stroke-width="25" clip-path="url(#rc2)"/>
<text transform="translate(755.9,1411.8) rotate(-60.0)" font-family="'Liberation Serif', 'Noto Serif CJK TC', 'Noto Serif CJK SC', serif" font-weight="700" font-size="15.0" fill="#8e94b4" opacity="0.75" text-anchor="middle" dy="5.2">國</text>
<text transform="translate(776.1,1389.3) rotate(-36.0)" font-family="'Liberation Serif', 'Noto Serif CJK TC', 'Noto Serif CJK SC', serif" font-weight="700" font-size="15.0" fill="#8e94b4" opacity="0.75" text-anchor="middle" dy="5.2">立</text>
<text transform="translate(803.6,1377.1) rotate(-12.0)" font-family="'Liberation Serif', 'Noto Serif CJK TC', 'Noto Serif CJK SC', serif" font-weight="700" font-size="15.0" fill="#8e94b4" opacity="0.75" text-anchor="middle" dy="5.2">聯</text>
<text transform="translate(833.8,1377.1) rotate(12.0)" font-family="'Liberation Serif', 'Noto Serif CJK TC', 'Noto Serif CJK SC', serif" font-weight="700" font-size="15.0" fill="#8e94b4" opacity="0.75" text-anchor="middle" dy="5.2">合</text>
<text transform="translate(861.3,1389.3) rotate(36.0)" font-family="'Liberation Serif', 'Noto Serif CJK TC', 'Noto Serif CJK SC', serif" font-weight="700" font-size="15.0" fill="#8e94b4" opacity="0.75" text-anchor="middle" dy="5.2">大</text>
<text transform="translate(881.5,1411.8) rotate(60.0)" font-family="'Liberation Serif', 'Noto Serif CJK TC', 'Noto Serif CJK SC', serif" font-weight="700" font-size="15.0" fill="#8e94b4" opacity="0.75" text-anchor="middle" dy="5.2">學</text>
<text transform="translate(764.8,1496.5) rotate(48.0)" font-family="'Liberation Serif', 'Times New Roman', serif" font-weight="700" font-size="7.5" fill="#98a0c4" opacity="0.7" text-anchor="middle" dy="2.6">N</text>
<text transform="translate(768.2,1500.0) rotate(44.2)" font-family="'Liberation Serif', 'Times New Roman', serif" font-weight="700" font-size="7.5" fill="#98a0c4" opacity="0.7" text-anchor="middle" dy="2.6">A</text>
<text transform="translate(771.8,1503.3) rotate(40.3)" font-family="'Liberation Serif', 'Times New Roman', serif" font-weight="700" font-size="7.5" fill="#98a0c4" opacity="0.7" text-anchor="middle" dy="2.6">T</text>
<text transform="translate(775.6,1506.3) rotate(36.5)" font-family="'Liberation Serif', 'Times New Roman', serif" font-weight="700" font-size="7.5" fill="#98a0c4" opacity="0.7" text-anchor="middle" dy="2.6">I</text>
<text transform="translate(779.6,1509.1) rotate(32.6)" font-family="'Liberation Serif', 'Times New Roman', serif" font-weight="700" font-size="7.5" fill="#98a0c4" opacity="0.7" text-anchor="middle" dy="2.6">O</text>
<text transform="translate(783.8,1511.5) rotate(28.8)" font-family="'Liberation Serif', 'Times New Roman', serif" font-weight="700" font-size="7.5" fill="#98a0c4" opacity="0.7" text-anchor="middle" dy="2.6">N</text>
<text transform="translate(788.1,1513.7) rotate(25.0)" font-family="'Liberation Serif', 'Times New Roman', serif" font-weight="700" font-size="7.5" fill="#98a0c4" opacity="0.7" text-anchor="middle" dy="2.6">A</text>
<text transform="translate(792.6,1515.6) rotate(21.1)" font-family="'Liberation Serif', 'Times New Roman', serif" font-weight="700" font-size="7.5" fill="#98a0c4" opacity="0.7" text-anchor="middle" dy="2.6">L</text>
<text transform="translate(801.8,1518.5) rotate(13.4)" font-family="'Liberation Serif', 'Times New Roman', serif" font-weight="700" font-size="7.5" fill="#98a0c4" opacity="0.7" text-anchor="middle" dy="2.6">U</text>
<text transform="translate(806.6,1519.5) rotate(9.6)" font-family="'Liberation Serif', 'Times New Roman', serif" font-weight="700" font-size="7.5" fill="#98a0c4" opacity="0.7" text-anchor="middle" dy="2.6">N</text>
<text transform="translate(811.4,1520.1) rotate(5.8)" font-family="'Liberation Serif', 'Times New Roman', serif" font-weight="700" font-size="7.5" fill="#98a0c4" opacity="0.7" text-anchor="middle" dy="2.6">I</text>
<text transform="translate(816.3,1520.5) rotate(1.9)" font-family="'Liberation Serif', 'Times New Roman', serif" font-weight="700" font-size="7.5" fill="#98a0c4" opacity="0.7" text-anchor="middle" dy="2.6">T</text>
<text transform="translate(821.1,1520.5) rotate(-1.9)" font-family="'Liberation Serif', 'Times New Roman', serif" font-weight="700" font-size="7.5" fill="#98a0c4" opacity="0.7" text-anchor="middle" dy="2.6">E</text>
<text transform="translate(826.0,1520.1) rotate(-5.8)" font-family="'Liberation Serif', 'Times New Roman', serif" font-weight="700" font-size="7.5" fill="#98a0c4" opacity="0.7" text-anchor="middle" dy="2.6">D</text>
<text transform="translate(835.6,1518.5) rotate(-13.4)" font-family="'Liberation Serif', 'Times New Roman', serif" font-weight="700" font-size="7.5" fill="#98a0c4" opacity="0.7" text-anchor="middle" dy="2.6">U</text>
<text transform="translate(840.2,1517.2) rotate(-17.3)" font-family="'Liberation Serif', 'Times New Roman', serif" font-weight="700" font-size="7.5" fill="#98a0c4" opacity="0.7" text-anchor="middle" dy="2.6">N</text>
<text transform="translate(844.8,1515.6) rotate(-21.1)" font-family="'Liberation Serif', 'Times New Roman', serif" font-weight="700" font-size="7.5" fill="#98a0c4" opacity="0.7" text-anchor="middle" dy="2.6">I</text>
<text transform="translate(849.3,1513.7) rotate(-25.0)" font-family="'Liberation Serif', 'Times New Roman', serif" font-weight="700" font-size="7.5" fill="#98a0c4" opacity="0.7" text-anchor="middle" dy="2.6">V</text>
<text transform="translate(853.6,1511.5) rotate(-28.8)" font-family="'Liberation Serif', 'Times New Roman', serif" font-weight="700" font-size="7.5" fill="#98a0c4" opacity="0.7" text-anchor="middle" dy="2.6">E</text>
<text transform="translate(857.8,1509.1) rotate(-32.6)" font-family="'Liberation Serif', 'Times New Roman', serif" font-weight="700" font-size="7.5" fill="#98a0c4" opacity="0.7" text-anchor="middle" dy="2.6">R</text>
<text transform="translate(861.8,1506.3) rotate(-36.5)" font-family="'Liberation Serif', 'Times New Roman', serif" font-weight="700" font-size="7.5" fill="#98a0c4" opacity="0.7" text-anchor="middle" dy="2.6">S</text>
<text transform="translate(865.6,1503.3) rotate(-40.3)" font-family="'Liberation Serif', 'Times New Roman', serif" font-weight="700" font-size="7.5" fill="#98a0c4" opacity="0.7" text-anchor="middle" dy="2.6">I</text>
<text transform="translate(869.2,1500.0) rotate(-44.2)" font-family="'Liberation Serif', 'Times New Roman', serif" font-weight="700" font-size="7.5" fill="#98a0c4" opacity="0.7" text-anchor="middle" dy="2.6">T</text>
<text transform="translate(872.6,1496.5) rotate(-48.0)" font-family="'Liberation Serif', 'Times New Roman', serif" font-weight="700" font-size="7.5" fill="#98a0c4" opacity="0.7" text-anchor="middle" dy="2.6">Y</text>
<circle cx="747.3" cy="1435.4" r="2.6" fill="#9aa2c4" opacity="0.7"/>
<circle cx="890.1" cy="1435.4" r="2.6" fill="#9aa2c4" opacity="0.7"/>
<rect x="788.7" y="1403.0" width="60.0" height="46.0" rx="23.0" fill="#5c7a30" transform="rotate(90 818.7 1426.0)"/>
<rect x="764.2" y="1442.5" width="60.0" height="40.0" rx="20.0" fill="#3a5428" transform="rotate(-30 794.2 1462.5)"/>
<rect x="813.2" y="1442.5" width="60.0" height="40.0" rx="20.0" fill="#263426" transform="rotate(30 843.2 1462.5)"/>
<rect x="826.7" y="1432.0" width="14.0" height="20.0" fill="#5c7a30" opacity="0.85"/>
<ellipse cx="819.7" cy="1429.0" rx="7.0" ry="8.0" fill="#263426" opacity="0.9"/>
<ellipse cx="819.5" cy="1414.0" rx="8.0" ry="6.5" fill="#848d6d"/>
<ellipse cx="790.0" cy="1463.2" rx="9.5" ry="7.5" fill="#848d6d" transform="rotate(-30 790.0 1463.2)"/>
<ellipse cx="847.6" cy="1463.9" rx="9.5" ry="7.5" fill="#848d6d" transform="rotate(30 847.6 1463.9)"/>
<ellipse cx="817.7" cy="1447.0" rx="9.0" ry="8.0" fill="#848d6d"/>
<rect x="725" y="1577" width="188" height="12" fill="#505c52"/>
<rect x="733" y="1582.0" width="172" height="2" fill="#7a8a80" opacity="0.6"/>
</g>
<text x="725.0" y="1567.3" font-family="'Liberation Serif', 'Noto Serif CJK TC', 'Noto Serif CJK SC', serif" font-weight="900" font-size="36.7" letter-spacing="9.8" fill="#35352f" stroke="#35352f" stroke-width="0.6" opacity="0.95" filter="url(#pbt)">聯合大學</text>
</g>
<g>
<rect x="1043" y="1360" width="239" height="242" fill="url(#bgl1)"/>
<g filter="url(#pb)">
<rect x="1043" y="1360" width="239" height="5" fill="#a3a29c"/>
<rect x="1043" y="1360" width="5" height="242" fill="#a3a29c" opacity="0.7"/>
<circle cx="1166" cy="1456" r="56.5" fill="#858370"/>
<defs><linearGradient id="rg3" gradientUnits="userSpaceOnUse" x1="1085.0" y1="1456.0" x2="1247.0" y2="1480.3"><stop offset="0" stop-color="#2e3858"/><stop offset="0.45" stop-color="#37497c"/><stop offset="1" stop-color="#37497c"/></linearGradient><clipPath id="rc3"><rect x="1080.0" y="1462.0" width="172.0" height="91.0"/></clipPath></defs>
<circle cx="1166" cy="1456" r="68.75" fill="none" stroke="#2a2e45" stroke-width="24.5"/>
<circle cx="1166" cy="1456" r="68.75" fill="none" stroke="url(#rg3)" stroke-width="24.5" clip-path="url(#rc3)"/>
<text transform="translate(1106.5,1421.6) rotate(-60.0)" font-family="'Liberation Serif', 'Noto Serif CJK TC', 'Noto Serif CJK SC', serif" font-weight="700" font-size="14.7" fill="#8e94b4" opacity="0.75" text-anchor="middle" dy="5.1">國</text>
<text transform="translate(1125.6,1400.4) rotate(-36.0)" font-family="'Liberation Serif', 'Noto Serif CJK TC', 'Noto Serif CJK SC', serif" font-weight="700" font-size="14.7" fill="#8e94b4" opacity="0.75" text-anchor="middle" dy="5.1">立</text>
<text transform="translate(1151.7,1388.8) rotate(-12.0)" font-family="'Liberation Serif', 'Noto Serif CJK TC', 'Noto Serif CJK SC', serif" font-weight="700" font-size="14.7" fill="#8e94b4" opacity="0.75" text-anchor="middle" dy="5.1">聯</text>
<text transform="translate(1180.3,1388.8) rotate(12.0)" font-family="'Liberation Serif', 'Noto Serif CJK TC', 'Noto Serif CJK SC', serif" font-weight="700" font-size="14.7" fill="#8e94b4" opacity="0.75" text-anchor="middle" dy="5.1">合</text>
<text transform="translate(1206.4,1400.4) rotate(36.0)" font-family="'Liberation Serif', 'Noto Serif CJK TC', 'Noto Serif CJK SC', serif" font-weight="700" font-size="14.7" fill="#8e94b4" opacity="0.75" text-anchor="middle" dy="5.1">大</text>
<text transform="translate(1225.5,1421.6) rotate(60.0)" font-family="'Liberation Serif', 'Noto Serif CJK TC', 'Noto Serif CJK SC', serif" font-weight="700" font-size="14.7" fill="#8e94b4" opacity="0.75" text-anchor="middle" dy="5.1">學</text>
<text transform="translate(1114.9,1502.0) rotate(48.0)" font-family="'Liberation Serif', 'Times New Roman', serif" font-weight="700" font-size="7.3" fill="#98a0c4" opacity="0.7" text-anchor="middle" dy="2.6">N</text>
<text transform="translate(1118.1,1505.3) rotate(44.2)" font-family="'Liberation Serif', 'Times New Roman', serif" font-weight="700" font-size="7.3" fill="#98a0c4" opacity="0.7" text-anchor="middle" dy="2.6">A</text>
<text transform="translate(1121.5,1508.4) rotate(40.3)" font-family="'Liberation Serif', 'Times New Roman', serif" font-weight="700" font-size="7.3" fill="#98a0c4" opacity="0.7" text-anchor="middle" dy="2.6">T</text>
<text transform="translate(1125.1,1511.3) rotate(36.5)" font-family="'Liberation Serif', 'Times New Roman', serif" font-weight="700" font-size="7.3" fill="#98a0c4" opacity="0.7" text-anchor="middle" dy="2.6">I</text>
<text transform="translate(1128.9,1513.9) rotate(32.6)" font-family="'Liberation Serif', 'Times New Roman', serif" font-weight="700" font-size="7.3" fill="#98a0c4" opacity="0.7" text-anchor="middle" dy="2.6">O</text>
<text transform="translate(1132.9,1516.2) rotate(28.8)" font-family="'Liberation Serif', 'Times New Roman', serif" font-weight="700" font-size="7.3" fill="#98a0c4" opacity="0.7" text-anchor="middle" dy="2.6">N</text>
<text transform="translate(1137.0,1518.3) rotate(25.0)" font-family="'Liberation Serif', 'Times New Roman', serif" font-weight="700" font-size="7.3" fill="#98a0c4" opacity="0.7" text-anchor="middle" dy="2.6">A</text>
<text transform="translate(1141.2,1520.1) rotate(21.1)" font-family="'Liberation Serif', 'Times New Roman', serif" font-weight="700" font-size="7.3" fill="#98a0c4" opacity="0.7" text-anchor="middle" dy="2.6">L</text>
<text transform="translate(1150.0,1522.9) rotate(13.4)" font-family="'Liberation Serif', 'Times New Roman', serif" font-weight="700" font-size="7.3" fill="#98a0c4" opacity="0.7" text-anchor="middle" dy="2.6">U</text>
<text transform="translate(1154.5,1523.8) rotate(9.6)" font-family="'Liberation Serif', 'Times New Roman', serif" font-weight="700" font-size="7.3" fill="#98a0c4" opacity="0.7" text-anchor="middle" dy="2.6">N</text>
<text transform="translate(1159.1,1524.4) rotate(5.8)" font-family="'Liberation Serif', 'Times New Roman', serif" font-weight="700" font-size="7.3" fill="#98a0c4" opacity="0.7" text-anchor="middle" dy="2.6">I</text>
<text transform="translate(1163.7,1524.7) rotate(1.9)" font-family="'Liberation Serif', 'Times New Roman', serif" font-weight="700" font-size="7.3" fill="#98a0c4" opacity="0.7" text-anchor="middle" dy="2.6">T</text>
<text transform="translate(1168.3,1524.7) rotate(-1.9)" font-family="'Liberation Serif', 'Times New Roman', serif" font-weight="700" font-size="7.3" fill="#98a0c4" opacity="0.7" text-anchor="middle" dy="2.6">E</text>
<text transform="translate(1172.9,1524.4) rotate(-5.8)" font-family="'Liberation Serif', 'Times New Roman', serif" font-weight="700" font-size="7.3" fill="#98a0c4" opacity="0.7" text-anchor="middle" dy="2.6">D</text>
<text transform="translate(1182.0,1522.9) rotate(-13.4)" font-family="'Liberation Serif', 'Times New Roman', serif" font-weight="700" font-size="7.3" fill="#98a0c4" opacity="0.7" text-anchor="middle" dy="2.6">U</text>
<text transform="translate(1186.4,1521.6) rotate(-17.3)" font-family="'Liberation Serif', 'Times New Roman', serif" font-weight="700" font-size="7.3" fill="#98a0c4" opacity="0.7" text-anchor="middle" dy="2.6">N</text>
<text transform="translate(1190.8,1520.1) rotate(-21.1)" font-family="'Liberation Serif', 'Times New Roman', serif" font-weight="700" font-size="7.3" fill="#98a0c4" opacity="0.7" text-anchor="middle" dy="2.6">I</text>
<text transform="translate(1195.0,1518.3) rotate(-25.0)" font-family="'Liberation Serif', 'Times New Roman', serif" font-weight="700" font-size="7.3" fill="#98a0c4" opacity="0.7" text-anchor="middle" dy="2.6">V</text>
<text transform="translate(1199.1,1516.2) rotate(-28.8)" font-family="'Liberation Serif', 'Times New Roman', serif" font-weight="700" font-size="7.3" fill="#98a0c4" opacity="0.7" text-anchor="middle" dy="2.6">E</text>
<text transform="translate(1203.1,1513.9) rotate(-32.6)" font-family="'Liberation Serif', 'Times New Roman', serif" font-weight="700" font-size="7.3" fill="#98a0c4" opacity="0.7" text-anchor="middle" dy="2.6">R</text>
<text transform="translate(1206.9,1511.3) rotate(-36.5)" font-family="'Liberation Serif', 'Times New Roman', serif" font-weight="700" font-size="7.3" fill="#98a0c4" opacity="0.7" text-anchor="middle" dy="2.6">S</text>
<text transform="translate(1210.5,1508.4) rotate(-40.3)" font-family="'Liberation Serif', 'Times New Roman', serif" font-weight="700" font-size="7.3" fill="#98a0c4" opacity="0.7" text-anchor="middle" dy="2.6">I</text>
<text transform="translate(1213.9,1505.3) rotate(-44.2)" font-family="'Liberation Serif', 'Times New Roman', serif" font-weight="700" font-size="7.3" fill="#98a0c4" opacity="0.7" text-anchor="middle" dy="2.6">T</text>
<text transform="translate(1217.1,1502.0) rotate(-48.0)" font-family="'Liberation Serif', 'Times New Roman', serif" font-weight="700" font-size="7.3" fill="#98a0c4" opacity="0.7" text-anchor="middle" dy="2.6">Y</text>
<circle cx="1098.3" cy="1444.1" r="2.6" fill="#9aa2c4" opacity="0.7"/>
<circle cx="1233.7" cy="1444.1" r="2.6" fill="#9aa2c4" opacity="0.7"/>
<rect x="1137.8" y="1413.6" width="56.5" height="43.3" rx="21.7" fill="#5c7a30" transform="rotate(90 1166.0 1435.3)"/>
<rect x="1114.7" y="1450.8" width="56.5" height="37.7" rx="18.8" fill="#3a5428" transform="rotate(-30 1142.9 1469.7)"/>
<rect x="1160.8" y="1450.8" width="56.5" height="37.7" rx="18.8" fill="#263426" transform="rotate(30 1189.1 1469.7)"/>
<rect x="1173.5" y="1440.9" width="13.2" height="18.8" fill="#5c7a30" opacity="0.85"/>
<ellipse cx="1166.9" cy="1438.1" rx="6.6" ry="7.5" fill="#263426" opacity="0.9"/>
<ellipse cx="1166.8" cy="1424.0" rx="7.5" ry="6.1" fill="#848d6d"/>
<ellipse cx="1139.0" cy="1470.3" rx="8.9" ry="7.1" fill="#848d6d" transform="rotate(-30 1139.0 1470.3)"/>
<ellipse cx="1193.2" cy="1471.0" rx="8.9" ry="7.1" fill="#848d6d" transform="rotate(30 1193.2 1471.0)"/>
<ellipse cx="1165.1" cy="1455.1" rx="8.5" ry="7.5" fill="#848d6d"/>
<rect x="1075" y="1581" width="175" height="12" fill="#505c52"/>
<rect x="1083" y="1586.0" width="159" height="2" fill="#7a8a80" opacity="0.6"/>
</g>
<text x="1075.0" y="1574.0" font-family="'Liberation Serif', 'Noto Serif CJK TC', 'Noto Serif CJK SC', serif" font-weight="900" font-size="40.0" letter-spacing="3.7" fill="#35352f" stroke="#35352f" stroke-width="0.6" opacity="0.95" filter="url(#pbt)">聯合大學</text>
</g>
<g>
<rect x="1377" y="1360" width="239" height="242" fill="url(#bgl2)"/>
<g filter="url(#pb)">
<rect x="1377" y="1360" width="239" height="5" fill="#b2b1b2"/>
<rect x="1377" y="1360" width="5" height="242" fill="#b2b1b2" opacity="0.7"/>
<circle cx="1502" cy="1453" r="57.5" fill="#928d7d"/>
<defs><linearGradient id="rg4" gradientUnits="userSpaceOnUse" x1="1420.5" y1="1453.0" x2="1583.5" y2="1477.5"><stop offset="0" stop-color="#33446c"/><stop offset="0.45" stop-color="#384c82"/><stop offset="1" stop-color="#384c82"/></linearGradient><clipPath id="rc4"><rect x="1415.5" y="1459.0" width="173.0" height="91.5"/></clipPath></defs>
<circle cx="1502" cy="1453" r="69.50" fill="none" stroke="#2a2e48" stroke-width="24.0"/>
<circle cx="1502" cy="1453" r="69.50" fill="none" stroke="url(#rg4)" stroke-width="24.0" clip-path="url(#rc4)"/>
<text transform="translate(1441.8,1418.2) rotate(-60.0)" font-family="'Liberation Serif', 'Noto Serif CJK TC', 'Noto Serif CJK SC', serif" font-weight="700" font-size="14.4" fill="#8e94b4" opacity="0.75" text-anchor="middle" dy="5.0">國</text>
<text transform="translate(1461.1,1396.8) rotate(-36.0)" font-family="'Liberation Serif', 'Noto Serif CJK TC', 'Noto Serif CJK SC', serif" font-weight="700" font-size="14.4" fill="#8e94b4" opacity="0.75" text-anchor="middle" dy="5.0">立</text>
<text transform="translate(1487.6,1385.0) rotate(-12.0)" font-family="'Liberation Serif', 'Noto Serif CJK TC', 'Noto Serif CJK SC', serif" font-weight="700" font-size="14.4" fill="#8e94b4" opacity="0.75" text-anchor="middle" dy="5.0">聯</text>
<text transform="translate(1516.4,1385.0) rotate(12.0)" font-family="'Liberation Serif', 'Noto Serif CJK TC', 'Noto Serif CJK SC', serif" font-weight="700" font-size="14.4" fill="#8e94b4" opacity="0.75" text-anchor="middle" dy="5.0">合</text>
<text transform="translate(1542.9,1396.8) rotate(36.0)" font-family="'Liberation Serif', 'Noto Serif CJK TC', 'Noto Serif CJK SC', serif" font-weight="700" font-size="14.4" fill="#8e94b4" opacity="0.75" text-anchor="middle" dy="5.0">大</text>
<text transform="translate(1562.2,1418.2) rotate(60.0)" font-family="'Liberation Serif', 'Noto Serif CJK TC', 'Noto Serif CJK SC', serif" font-weight="700" font-size="14.4" fill="#8e94b4" opacity="0.75" text-anchor="middle" dy="5.0">學</text>
<text transform="translate(1450.4,1499.5) rotate(48.0)" font-family="'Liberation Serif', 'Times New Roman', serif" font-weight="700" font-size="7.2" fill="#98a0c4" opacity="0.7" text-anchor="middle" dy="2.5">N</text>
<text transform="translate(1453.6,1502.9) rotate(44.2)" font-family="'Liberation Serif', 'Times New Roman', serif" font-weight="700" font-size="7.2" fill="#98a0c4" opacity="0.7" text-anchor="middle" dy="2.5">A</text>
<text transform="translate(1457.0,1506.0) rotate(40.3)" font-family="'Liberation Serif', 'Times New Roman', serif" font-weight="700" font-size="7.2" fill="#98a0c4" opacity="0.7" text-anchor="middle" dy="2.5">T</text>
<text transform="translate(1460.7,1508.9) rotate(36.5)" font-family="'Liberation Serif', 'Times New Roman', serif" font-weight="700" font-size="7.2" fill="#98a0c4" opacity="0.7" text-anchor="middle" dy="2.5">I</text>
<text transform="translate(1464.5,1511.5) rotate(32.6)" font-family="'Liberation Serif', 'Times New Roman', serif" font-weight="700" font-size="7.2" fill="#98a0c4" opacity="0.7" text-anchor="middle" dy="2.5">O</text>
<text transform="translate(1468.5,1513.9) rotate(28.8)" font-family="'Liberation Serif', 'Times New Roman', serif" font-weight="700" font-size="7.2" fill="#98a0c4" opacity="0.7" text-anchor="middle" dy="2.5">N</text>
<text transform="translate(1472.7,1516.0) rotate(25.0)" font-family="'Liberation Serif', 'Times New Roman', serif" font-weight="700" font-size="7.2" fill="#98a0c4" opacity="0.7" text-anchor="middle" dy="2.5">A</text>
<text transform="translate(1477.0,1517.8) rotate(21.1)" font-family="'Liberation Serif', 'Times New Roman', serif" font-weight="700" font-size="7.2" fill="#98a0c4" opacity="0.7" text-anchor="middle" dy="2.5">L</text>
<text transform="translate(1485.8,1520.6) rotate(13.4)" font-family="'Liberation Serif', 'Times New Roman', serif" font-weight="700" font-size="7.2" fill="#98a0c4" opacity="0.7" text-anchor="middle" dy="2.5">U</text>
<text transform="translate(1490.4,1521.5) rotate(9.6)" font-family="'Liberation Serif', 'Times New Roman', serif" font-weight="700" font-size="7.2" fill="#98a0c4" opacity="0.7" text-anchor="middle" dy="2.5">N</text>
<text transform="translate(1495.0,1522.1) rotate(5.8)" font-family="'Liberation Serif', 'Times New Roman', serif" font-weight="700" font-size="7.2" fill="#98a0c4" opacity="0.7" text-anchor="middle" dy="2.5">I</text>
<text transform="translate(1499.7,1522.5) rotate(1.9)" font-family="'Liberation Serif', 'Times New Roman', serif" font-weight="700" font-size="7.2" fill="#98a0c4" opacity="0.7" text-anchor="middle" dy="2.5">T</text>
<text transform="translate(1504.3,1522.5) rotate(-1.9)" font-family="'Liberation Serif', 'Times New Roman', serif" font-weight="700" font-size="7.2" fill="#98a0c4" opacity="0.7" text-anchor="middle" dy="2.5">E</text>
<text transform="translate(1509.0,1522.1) rotate(-5.8)" font-family="'Liberation Serif', 'Times New Roman', serif" font-weight="700" font-size="7.2" fill="#98a0c4" opacity="0.7" text-anchor="middle" dy="2.5">D</text>
<text transform="translate(1518.2,1520.6) rotate(-13.4)" font-family="'Liberation Serif', 'Times New Roman', serif" font-weight="700" font-size="7.2" fill="#98a0c4" opacity="0.7" text-anchor="middle" dy="2.5">U</text>
<text transform="translate(1522.6,1519.4) rotate(-17.3)" font-family="'Liberation Serif', 'Times New Roman', serif" font-weight="700" font-size="7.2" fill="#98a0c4" opacity="0.7" text-anchor="middle" dy="2.5">N</text>
<text transform="translate(1527.0,1517.8) rotate(-21.1)" font-family="'Liberation Serif', 'Times New Roman', serif" font-weight="700" font-size="7.2" fill="#98a0c4" opacity="0.7" text-anchor="middle" dy="2.5">I</text>
<text transform="translate(1531.3,1516.0) rotate(-25.0)" font-family="'Liberation Serif', 'Times New Roman', serif" font-weight="700" font-size="7.2" fill="#98a0c4" opacity="0.7" text-anchor="middle" dy="2.5">V</text>
<text transform="translate(1535.5,1513.9) rotate(-28.8)" font-family="'Liberation Serif', 'Times New Roman', serif" font-weight="700" font-size="7.2" fill="#98a0c4" opacity="0.7" text-anchor="middle" dy="2.5">E</text>
<text transform="translate(1539.5,1511.5) rotate(-32.6)" font-family="'Liberation Serif', 'Times New Roman', serif" font-weight="700" font-size="7.2" fill="#98a0c4" opacity="0.7" text-anchor="middle" dy="2.5">R</text>
<text transform="translate(1543.3,1508.9) rotate(-36.5)" font-family="'Liberation Serif', 'Times New Roman', serif" font-weight="700" font-size="7.2" fill="#98a0c4" opacity="0.7" text-anchor="middle" dy="2.5">S</text>
<text transform="translate(1547.0,1506.0) rotate(-40.3)" font-family="'Liberation Serif', 'Times New Roman', serif" font-weight="700" font-size="7.2" fill="#98a0c4" opacity="0.7" text-anchor="middle" dy="2.5">I</text>
<text transform="translate(1550.4,1502.9) rotate(-44.2)" font-family="'Liberation Serif', 'Times New Roman', serif" font-weight="700" font-size="7.2" fill="#98a0c4" opacity="0.7" text-anchor="middle" dy="2.5">T</text>
<text transform="translate(1553.6,1499.5) rotate(-48.0)" font-family="'Liberation Serif', 'Times New Roman', serif" font-weight="700" font-size="7.2" fill="#98a0c4" opacity="0.7" text-anchor="middle" dy="2.5">Y</text>
<circle cx="1433.6" cy="1440.9" r="2.6" fill="#9aa2c4" opacity="0.7"/>
<circle cx="1570.4" cy="1440.9" r="2.6" fill="#9aa2c4" opacity="0.7"/>
<rect x="1473.2" y="1409.9" width="57.5" height="44.1" rx="22.0" fill="#5c7a30" transform="rotate(90 1502.0 1431.9)"/>
<rect x="1449.8" y="1447.7" width="57.5" height="38.3" rx="19.2" fill="#3a5428" transform="rotate(-30 1478.5 1466.9)"/>
<rect x="1496.7" y="1447.7" width="57.5" height="38.3" rx="19.2" fill="#263426" transform="rotate(30 1525.5 1466.9)"/>
<rect x="1509.7" y="1437.7" width="13.4" height="19.2" fill="#5c7a30" opacity="0.85"/>
<ellipse cx="1503.0" cy="1434.8" rx="6.7" ry="7.7" fill="#263426" opacity="0.9"/>
<ellipse cx="1502.8" cy="1420.4" rx="7.7" ry="6.2" fill="#8c937a"/>
<ellipse cx="1474.5" cy="1467.6" rx="9.1" ry="7.2" fill="#8c937a" transform="rotate(-30 1474.5 1467.6)"/>
<ellipse cx="1529.7" cy="1468.2" rx="9.1" ry="7.2" fill="#8c937a" transform="rotate(30 1529.7 1468.2)"/>
<ellipse cx="1501.0" cy="1452.0" rx="8.6" ry="7.7" fill="#8c937a"/>
<rect x="1414" y="1579" width="174" height="14" fill="#4c5650"/>
<rect x="1422" y="1585.0" width="158" height="2" fill="#7a8a80" opacity="0.6"/>
</g>
<text x="1417.0" y="1572.2" font-family="'Liberation Serif', 'Noto Serif CJK TC', 'Noto Serif CJK SC', serif" font-weight="900" font-size="37.8" letter-spacing="4.9" fill="#38363a" stroke="#38363a" stroke-width="0.6" opacity="0.95" filter="url(#pbt)">聯合大學</text>
</g>
<g>
<rect x="1721" y="1359" width="238" height="243" fill="url(#bgl2)"/>
<g filter="url(#pb)">
<rect x="1721" y="1359" width="238" height="5" fill="#b2b1b2"/>
<rect x="1721" y="1359" width="5" height="243" fill="#b2b1b2" opacity="0.7"/>
<circle cx="1843" cy="1446" r="60.5" fill="#928d7d"/>
<defs><linearGradient id="rg5" gradientUnits="userSpaceOnUse" x1="1756.0" y1="1446.0" x2="1930.0" y2="1472.1"><stop offset="0" stop-color="#33446c"/><stop offset="0.45" stop-color="#384c82"/><stop offset="1" stop-color="#384c82"/></linearGradient><clipPath id="rc5"><rect x="1751.0" y="1452.0" width="184.0" height="97.0"/></clipPath></defs>
<circle cx="1843" cy="1446" r="73.75" fill="none" stroke="#2a2e48" stroke-width="26.5"/>
<circle cx="1843" cy="1446" r="73.75" fill="none" stroke="url(#rg5)" stroke-width="26.5" clip-path="url(#rc5)"/>
<text transform="translate(1779.1,1409.1) rotate(-60.0)" font-family="'Liberation Serif', 'Noto Serif CJK TC', 'Noto Serif CJK SC', serif" font-weight="700" font-size="15.9" fill="#8e94b4" opacity="0.75" text-anchor="middle" dy="5.6">國</text>
<text transform="translate(1799.7,1386.3) rotate(-36.0)" font-family="'Liberation Serif', 'Noto Serif CJK TC', 'Noto Serif CJK SC', serif" font-weight="700" font-size="15.9" fill="#8e94b4" opacity="0.75" text-anchor="middle" dy="5.6">立</text>
<text transform="translate(1827.7,1373.9) rotate(-12.0)" font-family="'Liberation Serif', 'Noto Serif CJK TC', 'Noto Serif CJK SC', serif" font-weight="700" font-size="15.9" fill="#8e94b4" opacity="0.75" text-anchor="middle" dy="5.6">聯</text>
<text transform="translate(1858.3,1373.9) rotate(12.0)" font-family="'Liberation Serif', 'Noto Serif CJK TC', 'Noto Serif CJK SC', serif" font-weight="700" font-size="15.9" fill="#8e94b4" opacity="0.75" text-anchor="middle" dy="5.6">合</text>
<text transform="translate(1886.3,1386.3) rotate(36.0)" font-family="'Liberation Serif', 'Noto Serif CJK TC', 'Noto Serif CJK SC', serif" font-weight="700" font-size="15.9" fill="#8e94b4" opacity="0.75" text-anchor="middle" dy="5.6">大</text>
<text transform="translate(1906.9,1409.1) rotate(60.0)" font-family="'Liberation Serif', 'Noto Serif CJK TC', 'Noto Serif CJK SC', serif" font-weight="700" font-size="15.9" fill="#8e94b4" opacity="0.75" text-anchor="middle" dy="5.6">學</text>
<text transform="translate(1788.2,1495.3) rotate(48.0)" font-family="'Liberation Serif', 'Times New Roman', serif" font-weight="700" font-size="7.9" fill="#98a0c4" opacity="0.7" text-anchor="middle" dy="2.8">N</text>
<text transform="translate(1791.6,1498.9) rotate(44.2)" font-family="'Liberation Serif', 'Times New Roman', serif" font-weight="700" font-size="7.9" fill="#98a0c4" opacity="0.7" text-anchor="middle" dy="2.8">A</text>
<text transform="translate(1795.3,1502.2) rotate(40.3)" font-family="'Liberation Serif', 'Times New Roman', serif" font-weight="700" font-size="7.9" fill="#98a0c4" opacity="0.7" text-anchor="middle" dy="2.8">T</text>
<text transform="translate(1799.2,1505.3) rotate(36.5)" font-family="'Liberation Serif', 'Times New Roman', serif" font-weight="700" font-size="7.9" fill="#98a0c4" opacity="0.7" text-anchor="middle" dy="2.8">I</text>
<text transform="translate(1803.2,1508.1) rotate(32.6)" font-family="'Liberation Serif', 'Times New Roman', serif" font-weight="700" font-size="7.9" fill="#98a0c4" opacity="0.7" text-anchor="middle" dy="2.8">O</text>
<text transform="translate(1807.5,1510.6) rotate(28.8)" font-family="'Liberation Serif', 'Times New Roman', serif" font-weight="700" font-size="7.9" fill="#98a0c4" opacity="0.7" text-anchor="middle" dy="2.8">N</text>
<text transform="translate(1811.9,1512.9) rotate(25.0)" font-family="'Liberation Serif', 'Times New Roman', serif" font-weight="700" font-size="7.9" fill="#98a0c4" opacity="0.7" text-anchor="middle" dy="2.8">A</text>
<text transform="translate(1816.4,1514.8) rotate(21.1)" font-family="'Liberation Serif', 'Times New Roman', serif" font-weight="700" font-size="7.9" fill="#98a0c4" opacity="0.7" text-anchor="middle" dy="2.8">L</text>
<text transform="translate(1825.9,1517.7) rotate(13.4)" font-family="'Liberation Serif', 'Times New Roman', serif" font-weight="700" font-size="7.9" fill="#98a0c4" opacity="0.7" text-anchor="middle" dy="2.8">U</text>
<text transform="translate(1830.7,1518.7) rotate(9.6)" font-family="'Liberation Serif', 'Times New Roman', serif" font-weight="700" font-size="7.9" fill="#98a0c4" opacity="0.7" text-anchor="middle" dy="2.8">N</text>
<text transform="translate(1835.6,1519.4) rotate(5.8)" font-family="'Liberation Serif', 'Times New Roman', serif" font-weight="700" font-size="7.9" fill="#98a0c4" opacity="0.7" text-anchor="middle" dy="2.8">I</text>
<text transform="translate(1840.5,1519.7) rotate(1.9)" font-family="'Liberation Serif', 'Times New Roman', serif" font-weight="700" font-size="7.9" fill="#98a0c4" opacity="0.7" text-anchor="middle" dy="2.8">T</text>
<text transform="translate(1845.5,1519.7) rotate(-1.9)" font-family="'Liberation Serif', 'Times New Roman', serif" font-weight="700" font-size="7.9" fill="#98a0c4" opacity="0.7" text-anchor="middle" dy="2.8">E</text>
<text transform="translate(1850.4,1519.4) rotate(-5.8)" font-family="'Liberation Serif', 'Times New Roman', serif" font-weight="700" font-size="7.9" fill="#98a0c4" opacity="0.7" text-anchor="middle" dy="2.8">D</text>
<text transform="translate(1860.1,1517.7) rotate(-13.4)" font-family="'Liberation Serif', 'Times New Roman', serif" font-weight="700" font-size="7.9" fill="#98a0c4" opacity="0.7" text-anchor="middle" dy="2.8">U</text>
<text transform="translate(1864.9,1516.4) rotate(-17.3)" font-family="'Liberation Serif', 'Times New Roman', serif" font-weight="700" font-size="7.9" fill="#98a0c4" opacity="0.7" text-anchor="middle" dy="2.8">N</text>
<text transform="translate(1869.6,1514.8) rotate(-21.1)" font-family="'Liberation Serif', 'Times New Roman', serif" font-weight="700" font-size="7.9" fill="#98a0c4" opacity="0.7" text-anchor="middle" dy="2.8">I</text>
<text transform="translate(1874.1,1512.9) rotate(-25.0)" font-family="'Liberation Serif', 'Times New Roman', serif" font-weight="700" font-size="7.9" fill="#98a0c4" opacity="0.7" text-anchor="middle" dy="2.8">V</text>
<text transform="translate(1878.5,1510.6) rotate(-28.8)" font-family="'Liberation Serif', 'Times New Roman', serif" font-weight="700" font-size="7.9" fill="#98a0c4" opacity="0.7" text-anchor="middle" dy="2.8">E</text>
<text transform="translate(1882.8,1508.1) rotate(-32.6)" font-family="'Liberation Serif', 'Times New Roman', serif" font-weight="700" font-size="7.9" fill="#98a0c4" opacity="0.7" text-anchor="middle" dy="2.8">R</text>
<text transform="translate(1886.8,1505.3) rotate(-36.5)" font-family="'Liberation Serif', 'Times New Roman', serif" font-weight="700" font-size="7.9" fill="#98a0c4" opacity="0.7" text-anchor="middle" dy="2.8">S</text>
<text transform="translate(1890.7,1502.2) rotate(-40.3)" font-family="'Liberation Serif', 'Times New Roman', serif" font-weight="700" font-size="7.9" fill="#98a0c4" opacity="0.7" text-anchor="middle" dy="2.8">I</text>
<text transform="translate(1894.4,1498.9) rotate(-44.2)" font-family="'Liberation Serif', 'Times New Roman', serif" font-weight="700" font-size="7.9" fill="#98a0c4" opacity="0.7" text-anchor="middle" dy="2.8">T</text>
<text transform="translate(1897.8,1495.3) rotate(-48.0)" font-family="'Liberation Serif', 'Times New Roman', serif" font-weight="700" font-size="7.9" fill="#98a0c4" opacity="0.7" text-anchor="middle" dy="2.8">Y</text>
<circle cx="1770.4" cy="1433.2" r="2.6" fill="#9aa2c4" opacity="0.7"/>
<circle cx="1915.6" cy="1433.2" r="2.6" fill="#9aa2c4" opacity="0.7"/>
<rect x="1812.8" y="1400.6" width="60.5" height="46.4" rx="23.2" fill="#5c7a30" transform="rotate(90 1843.0 1423.8)"/>
<rect x="1788.0" y="1440.5" width="60.5" height="40.3" rx="20.2" fill="#3a5428" transform="rotate(-30 1818.3 1460.6)"/>
<rect x="1837.5" y="1440.5" width="60.5" height="40.3" rx="20.2" fill="#263426" transform="rotate(30 1867.7 1460.6)"/>
<rect x="1851.1" y="1429.9" width="14.1" height="20.2" fill="#5c7a30" opacity="0.85"/>
<ellipse cx="1844.0" cy="1426.8" rx="7.1" ry="8.1" fill="#263426" opacity="0.9"/>
<ellipse cx="1843.8" cy="1411.7" rx="8.1" ry="6.6" fill="#8c937a"/>
<ellipse cx="1814.1" cy="1461.3" rx="9.6" ry="7.6" fill="#8c937a" transform="rotate(-30 1814.1 1461.3)"/>
<ellipse cx="1872.1" cy="1462.0" rx="9.6" ry="7.6" fill="#8c937a" transform="rotate(30 1872.1 1462.0)"/>
<ellipse cx="1842.0" cy="1445.0" rx="9.1" ry="8.1" fill="#8c937a"/>
<rect x="1750" y="1578" width="188" height="16" fill="#4c5650"/>
<rect x="1758" y="1585.0" width="172" height="2" fill="#7a8a80" opacity="0.6"/>
</g>
<text x="1748.0" y="1568.9" font-family="'Liberation Serif', 'Noto Serif CJK TC', 'Noto Serif CJK SC', serif" font-weight="900" font-size="41.0" letter-spacing="6.6" fill="#38363a" stroke="#38363a" stroke-width="0.6" opacity="0.95" filter="url(#pbt)">聯合大學</text>
</g>
<g>
<rect x="2055" y="1359" width="240" height="243" fill="url(#bgl2)"/>
<g filter="url(#pb)">
<rect x="2055" y="1359" width="240" height="5" fill="#b2b1b2"/>
<rect x="2055" y="1359" width="5" height="243" fill="#b2b1b2" opacity="0.7"/>
<circle cx="2171" cy="1445" r="55.5" fill="#928d7d"/>
<defs><linearGradient id="rg6" gradientUnits="userSpaceOnUse" x1="2091.0" y1="1445.0" x2="2251.0" y2="1469.0"><stop offset="0" stop-color="#33446c"/><stop offset="0.45" stop-color="#384c82"/><stop offset="1" stop-color="#384c82"/></linearGradient><clipPath id="rc6"><rect x="2086.0" y="1451.0" width="170.0" height="90.0"/></clipPath></defs>
<circle cx="2171" cy="1445" r="67.75" fill="none" stroke="#2a2e48" stroke-width="24.5"/>
<circle cx="2171" cy="1445" r="67.75" fill="none" stroke="url(#rg6)" stroke-width="24.5" clip-path="url(#rc6)"/>
<text transform="translate(2112.3,1411.1) rotate(-60.0)" font-family="'Liberation Serif', 'Noto Serif CJK TC', 'Noto Serif CJK SC', serif" font-weight="700" font-size="14.7" fill="#8e94b4" opacity="0.75" text-anchor="middle" dy="5.1">國</text>
<text transform="translate(2131.2,1390.2) rotate(-36.0)" font-family="'Liberation Serif', 'Noto Serif CJK TC', 'Noto Serif CJK SC', serif" font-weight="700" font-size="14.7" fill="#8e94b4" opacity="0.75" text-anchor="middle" dy="5.1">立</text>
<text transform="translate(2156.9,1378.7) rotate(-12.0)" font-family="'Liberation Serif', 'Noto Serif CJK TC', 'Noto Serif CJK SC', serif" font-weight="700" font-size="14.7" fill="#8e94b4" opacity="0.75" text-anchor="middle" dy="5.1">聯</text>
<text transform="translate(2185.1,1378.7) rotate(12.0)" font-family="'Liberation Serif', 'Noto Serif CJK TC', 'Noto Serif CJK SC', serif" font-weight="700" font-size="14.7" fill="#8e94b4" opacity="0.75" text-anchor="middle" dy="5.1">合</text>
<text transform="translate(2210.8,1390.2) rotate(36.0)" font-family="'Liberation Serif', 'Noto Serif CJK TC', 'Noto Serif CJK SC', serif" font-weight="700" font-size="14.7" fill="#8e94b4" opacity="0.75" text-anchor="middle" dy="5.1">大</text>
<text transform="translate(2229.7,1411.1) rotate(60.0)" font-family="'Liberation Serif', 'Noto Serif CJK TC', 'Noto Serif CJK SC', serif" font-weight="700" font-size="14.7" fill="#8e94b4" opacity="0.75" text-anchor="middle" dy="5.1">學</text>
<text transform="translate(2120.7,1490.3) rotate(48.0)" font-family="'Liberation Serif', 'Times New Roman', serif" font-weight="700" font-size="7.3" fill="#98a0c4" opacity="0.7" text-anchor="middle" dy="2.6">N</text>
<text transform="translate(2123.8,1493.6) rotate(44.2)" font-family="'Liberation Serif', 'Times New Roman', serif" font-weight="700" font-size="7.3" fill="#98a0c4" opacity="0.7" text-anchor="middle" dy="2.6">A</text>
<text transform="translate(2127.2,1496.7) rotate(40.3)" font-family="'Liberation Serif', 'Times New Roman', serif" font-weight="700" font-size="7.3" fill="#98a0c4" opacity="0.7" text-anchor="middle" dy="2.6">T</text>
<text transform="translate(2130.7,1499.5) rotate(36.5)" font-family="'Liberation Serif', 'Times New Roman', serif" font-weight="700" font-size="7.3" fill="#98a0c4" opacity="0.7" text-anchor="middle" dy="2.6">I</text>
<text transform="translate(2134.5,1502.1) rotate(32.6)" font-family="'Liberation Serif', 'Times New Roman', serif" font-weight="700" font-size="7.3" fill="#98a0c4" opacity="0.7" text-anchor="middle" dy="2.6">O</text>
<text transform="translate(2138.4,1504.4) rotate(28.8)" font-family="'Liberation Serif', 'Times New Roman', serif" font-weight="700" font-size="7.3" fill="#98a0c4" opacity="0.7" text-anchor="middle" dy="2.6">N</text>
<text transform="translate(2142.4,1506.4) rotate(25.0)" font-family="'Liberation Serif', 'Times New Roman', serif" font-weight="700" font-size="7.3" fill="#98a0c4" opacity="0.7" text-anchor="middle" dy="2.6">A</text>
<text transform="translate(2146.6,1508.2) rotate(21.1)" font-family="'Liberation Serif', 'Times New Roman', serif" font-weight="700" font-size="7.3" fill="#98a0c4" opacity="0.7" text-anchor="middle" dy="2.6">L</text>
<text transform="translate(2155.3,1510.9) rotate(13.4)" font-family="'Liberation Serif', 'Times New Roman', serif" font-weight="700" font-size="7.3" fill="#98a0c4" opacity="0.7" text-anchor="middle" dy="2.6">U</text>
<text transform="translate(2159.7,1511.8) rotate(9.6)" font-family="'Liberation Serif', 'Times New Roman', serif" font-weight="700" font-size="7.3" fill="#98a0c4" opacity="0.7" text-anchor="middle" dy="2.6">N</text>
<text transform="translate(2164.2,1512.4) rotate(5.8)" font-family="'Liberation Serif', 'Times New Roman', serif" font-weight="700" font-size="7.3" fill="#98a0c4" opacity="0.7" text-anchor="middle" dy="2.6">I</text>
<text transform="translate(2168.7,1512.7) rotate(1.9)" font-family="'Liberation Serif', 'Times New Roman', serif" font-weight="700" font-size="7.3" fill="#98a0c4" opacity="0.7" text-anchor="middle" dy="2.6">T</text>
<text transform="translate(2173.3,1512.7) rotate(-1.9)" font-family="'Liberation Serif', 'Times New Roman', serif" font-weight="700" font-size="7.3" fill="#98a0c4" opacity="0.7" text-anchor="middle" dy="2.6">E</text>
<text transform="translate(2177.8,1512.4) rotate(-5.8)" font-family="'Liberation Serif', 'Times New Roman', serif" font-weight="700" font-size="7.3" fill="#98a0c4" opacity="0.7" text-anchor="middle" dy="2.6">D</text>
<text transform="translate(2186.7,1510.9) rotate(-13.4)" font-family="'Liberation Serif', 'Times New Roman', serif" font-weight="700" font-size="7.3" fill="#98a0c4" opacity="0.7" text-anchor="middle" dy="2.6">U</text>
<text transform="translate(2191.1,1509.7) rotate(-17.3)" font-family="'Liberation Serif', 'Times New Roman', serif" font-weight="700" font-size="7.3" fill="#98a0c4" opacity="0.7" text-anchor="middle" dy="2.6">N</text>
<text transform="translate(2195.4,1508.2) rotate(-21.1)" font-family="'Liberation Serif', 'Times New Roman', serif" font-weight="700" font-size="7.3" fill="#98a0c4" opacity="0.7" text-anchor="middle" dy="2.6">I</text>
<text transform="translate(2199.6,1506.4) rotate(-25.0)" font-family="'Liberation Serif', 'Times New Roman', serif" font-weight="700" font-size="7.3" fill="#98a0c4" opacity="0.7" text-anchor="middle" dy="2.6">V</text>
<text transform="translate(2203.6,1504.4) rotate(-28.8)" font-family="'Liberation Serif', 'Times New Roman', serif" font-weight="700" font-size="7.3" fill="#98a0c4" opacity="0.7" text-anchor="middle" dy="2.6">E</text>
<text transform="translate(2207.5,1502.1) rotate(-32.6)" font-family="'Liberation Serif', 'Times New Roman', serif" font-weight="700" font-size="7.3" fill="#98a0c4" opacity="0.7" text-anchor="middle" dy="2.6">R</text>
<text transform="translate(2211.3,1499.5) rotate(-36.5)" font-family="'Liberation Serif', 'Times New Roman', serif" font-weight="700" font-size="7.3" fill="#98a0c4" opacity="0.7" text-anchor="middle" dy="2.6">S</text>
<text transform="translate(2214.8,1496.7) rotate(-40.3)" font-family="'Liberation Serif', 'Times New Roman', serif" font-weight="700" font-size="7.3" fill="#98a0c4" opacity="0.7" text-anchor="middle" dy="2.6">I</text>
<text transform="translate(2218.2,1493.6) rotate(-44.2)" font-family="'Liberation Serif', 'Times New Roman', serif" font-weight="700" font-size="7.3" fill="#98a0c4" opacity="0.7" text-anchor="middle" dy="2.6">T</text>
<text transform="translate(2221.3,1490.3) rotate(-48.0)" font-family="'Liberation Serif', 'Times New Roman', serif" font-weight="700" font-size="7.3" fill="#98a0c4" opacity="0.7" text-anchor="middle" dy="2.6">Y</text>
<circle cx="2104.3" cy="1433.2" r="2.6" fill="#9aa2c4" opacity="0.7"/>
<circle cx="2237.7" cy="1433.2" r="2.6" fill="#9aa2c4" opacity="0.7"/>
<rect x="2143.2" y="1403.4" width="55.5" height="42.6" rx="21.3" fill="#5c7a30" transform="rotate(90 2171.0 1424.7)"/>
<rect x="2120.6" y="1439.9" width="55.5" height="37.0" rx="18.5" fill="#3a5428" transform="rotate(-30 2148.3 1458.4)"/>
<rect x="2165.9" y="1439.9" width="55.5" height="37.0" rx="18.5" fill="#263426" transform="rotate(30 2193.7 1458.4)"/>
<rect x="2178.4" y="1430.2" width="13.0" height="18.5" fill="#5c7a30" opacity="0.85"/>
<ellipse cx="2171.9" cy="1427.4" rx="6.5" ry="7.4" fill="#263426" opacity="0.9"/>
<ellipse cx="2171.7" cy="1413.5" rx="7.4" ry="6.0" fill="#8c937a"/>
<ellipse cx="2144.5" cy="1459.1" rx="8.8" ry="6.9" fill="#8c937a" transform="rotate(-30 2144.5 1459.1)"/>
<ellipse cx="2197.7" cy="1459.7" rx="8.8" ry="6.9" fill="#8c937a" transform="rotate(30 2197.7 1459.7)"/>
<ellipse cx="2170.1" cy="1444.1" rx="8.3" ry="7.4" fill="#8c937a"/>
<rect x="2080" y="1569" width="169" height="13" fill="#4c5650"/>
<rect x="2088" y="1574.5" width="153" height="2" fill="#7a8a80" opacity="0.6"/>
</g>
<text x="2080.0" y="1562.0" font-family="'Liberation Serif', 'Noto Serif CJK TC', 'Noto Serif CJK SC', serif" font-weight="900" font-size="40.0" letter-spacing="2.5" fill="#38363a" stroke="#38363a" stroke-width="0.6" opacity="0.95" filter="url(#pbt)">聯合大學</text>
</g>
<g font-family="'Liberation Serif', 'Times New Roman', serif" font-weight="bold" fill="#000">
<text x="159.0" y="1686.9" font-size="68.5" text-anchor="middle">Pt</text>
<text x="486.8" y="1685.6" font-size="68.5" text-anchor="middle">CB</text>
<text x="495.0" y="1767.3" font-size="68.5" text-anchor="middle">(1.5M)</text>
<text x="829.6" y="1683.5" font-size="68.5" text-anchor="middle">VB12</text>
<text x="1154.5" y="1683.5" font-size="68.5" text-anchor="middle">Cobalt(II)</text>
<text x="1155.2" y="1766.0" font-size="68.5" text-anchor="middle">acetate</text>
<text x="1498.4" y="1681.4" font-size="68.5" text-anchor="middle">VB12+CB</text>
<text x="1833.3" y="1681.4" font-size="68.5" text-anchor="middle">Cobalt(II)</text>
<text x="1833.3" y="1761.5" font-size="68.5" text-anchor="middle">acetate</text>
<text x="1840.8" y="1847.0" font-size="68.5" text-anchor="middle">+</text>
<text x="1841.2" y="1924.5" font-size="68.5" text-anchor="middle">CB</text>
<text x="2180.5" y="1681.4" font-size="68.5" text-anchor="middle">CoCB</text>
</g>
</svg>
</body></html>
